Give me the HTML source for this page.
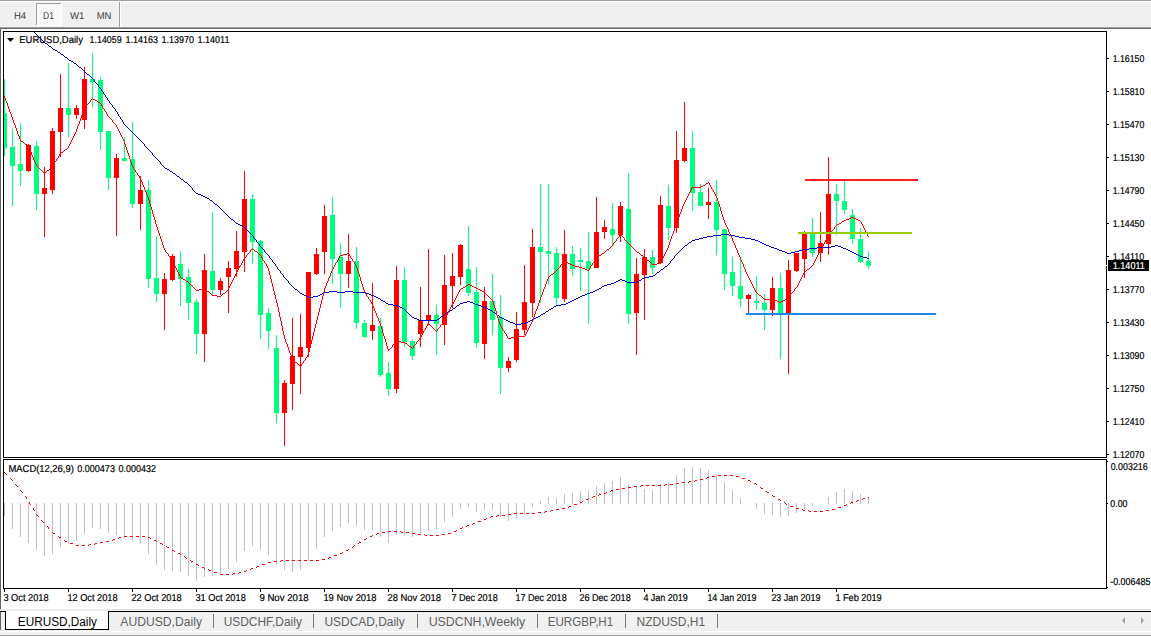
<!DOCTYPE html><html><head><meta charset="utf-8"><style>html,body{margin:0;padding:0;overflow:hidden;background:#f0f0f0}svg{display:block}text{font-family:"Liberation Sans",sans-serif}</style></head><body>
<svg width="1151" height="637" viewBox="0 0 1151 637">
<rect x="0" y="0" width="1151" height="637" fill="#f0f0f0"/>
<rect x="0" y="0" width="1151" height="1" fill="#a0a0a0"/>
<rect x="0" y="1" width="1151" height="1" fill="#ffffff"/>
<defs><pattern id="dith" x="0" y="0" width="2" height="2" patternUnits="userSpaceOnUse"><rect width="2" height="2" fill="#f0f0f0"/><rect x="0" y="0" width="1" height="1" fill="#fff"/><rect x="1" y="1" width="1" height="1" fill="#fff"/></pattern></defs>
<rect x="37" y="4" width="24" height="21" fill="url(#dith)"/>
<rect x="61" y="3" width="1" height="23" fill="#ffffff"/>
<rect x="36" y="25" width="26" height="1" fill="#ffffff"/>
<rect x="36" y="3" width="25" height="1" fill="#a0a0a0"/>
<rect x="36" y="3" width="1" height="22" fill="#a0a0a0"/>
<rect x="119" y="2" width="1" height="25" fill="#a0a0a0"/>
<rect x="120" y="2" width="1" height="25" fill="#ffffff"/>
<text x="13.9" y="19" font-size="10" fill="#3c3c3c" textLength="12.2" lengthAdjust="spacingAndGlyphs" text-rendering="geometricPrecision">H4</text>
<text x="43.0" y="19" font-size="10" fill="#3c3c3c" textLength="10.9" lengthAdjust="spacingAndGlyphs" text-rendering="geometricPrecision">D1</text>
<text x="69.9" y="19" font-size="10" fill="#3c3c3c" textLength="14.4" lengthAdjust="spacingAndGlyphs" text-rendering="geometricPrecision">W1</text>
<text x="96.7" y="19" font-size="10" fill="#3c3c3c" textLength="14.7" lengthAdjust="spacingAndGlyphs" text-rendering="geometricPrecision">MN</text>
<rect x="0" y="27" width="1151" height="1" fill="#a0a0a0"/>
<rect x="0" y="28" width="1151" height="1" fill="#696969"/>
<rect x="1" y="29" width="1150" height="580" fill="#ffffff"/>
<rect x="0" y="29" width="1" height="580" fill="#646464"/>
<rect x="0" y="609" width="1151" height="1" fill="#e3e3e3"/>
<rect x="3" y="31" width="1104" height="1" fill="#000"/>
<rect x="3" y="31" width="1" height="427" fill="#000"/>
<rect x="1106" y="31" width="1" height="427" fill="#000"/>
<rect x="3" y="457" width="1104" height="1" fill="#000"/>
<rect x="3" y="459" width="1104" height="1" fill="#000"/>
<rect x="3" y="459" width="1" height="130" fill="#000"/>
<rect x="1106" y="459" width="1" height="130" fill="#000"/>
<rect x="3" y="588" width="1104" height="1" fill="#000"/>
<defs><clipPath id="cm"><rect x="4" y="32" width="1102" height="425"/></clipPath><clipPath id="cd"><rect x="4" y="460" width="1102" height="128"/></clipPath></defs>
<g clip-path="url(#cm)" shape-rendering="crispEdges">
<rect x="4" y="79" width="1" height="77" fill="#00ff7f"/>
<rect x="2" y="113" width="5" height="35" fill="#00ff7f"/>
<rect x="12" y="129" width="1" height="77" fill="#00ff7f"/>
<rect x="10" y="147" width="5" height="19" fill="#00ff7f"/>
<rect x="20" y="123" width="1" height="63" fill="#00ff7f"/>
<rect x="18" y="164" width="5" height="7" fill="#00ff7f"/>
<rect x="28" y="144" width="1" height="28" fill="#ff0000"/>
<rect x="26" y="145" width="5" height="26" fill="#ff0000"/>
<rect x="36" y="141" width="1" height="69" fill="#00ff7f"/>
<rect x="34" y="146" width="5" height="48" fill="#00ff7f"/>
<rect x="44" y="167" width="1" height="70" fill="#ff0000"/>
<rect x="42" y="188" width="5" height="6" fill="#ff0000"/>
<rect x="52" y="128" width="1" height="66" fill="#ff0000"/>
<rect x="50" y="131" width="5" height="59" fill="#ff0000"/>
<rect x="60" y="74" width="1" height="83" fill="#ff0000"/>
<rect x="58" y="108" width="5" height="24" fill="#ff0000"/>
<rect x="68" y="63" width="1" height="74" fill="#00ff7f"/>
<rect x="66" y="108" width="5" height="7" fill="#00ff7f"/>
<rect x="76" y="105" width="1" height="14" fill="#ff0000"/>
<rect x="74" y="108" width="5" height="7" fill="#ff0000"/>
<rect x="84" y="67" width="1" height="62" fill="#ff0000"/>
<rect x="82" y="79" width="5" height="41" fill="#ff0000"/>
<rect x="92" y="53" width="1" height="54" fill="#00ff7f"/>
<rect x="90" y="79" width="5" height="3" fill="#00ff7f"/>
<rect x="100" y="77" width="1" height="73" fill="#00ff7f"/>
<rect x="98" y="80" width="5" height="52" fill="#00ff7f"/>
<rect x="108" y="131" width="1" height="59" fill="#00ff7f"/>
<rect x="106" y="131" width="5" height="47" fill="#00ff7f"/>
<rect x="116" y="154" width="1" height="82" fill="#ff0000"/>
<rect x="114" y="158" width="5" height="20" fill="#ff0000"/>
<rect x="124" y="137" width="1" height="24" fill="#00ff7f"/>
<rect x="122" y="158" width="5" height="3" fill="#00ff7f"/>
<rect x="132" y="122" width="1" height="86" fill="#00ff7f"/>
<rect x="130" y="159" width="5" height="45" fill="#00ff7f"/>
<rect x="140" y="176" width="1" height="54" fill="#ff0000"/>
<rect x="138" y="190" width="5" height="14" fill="#ff0000"/>
<rect x="148" y="180" width="1" height="108" fill="#00ff7f"/>
<rect x="146" y="190" width="5" height="89" fill="#00ff7f"/>
<rect x="156" y="236" width="1" height="66" fill="#00ff7f"/>
<rect x="154" y="278" width="5" height="16" fill="#00ff7f"/>
<rect x="164" y="273" width="1" height="57" fill="#ff0000"/>
<rect x="162" y="279" width="5" height="15" fill="#ff0000"/>
<rect x="172" y="254" width="1" height="27" fill="#ff0000"/>
<rect x="170" y="256" width="5" height="24" fill="#ff0000"/>
<rect x="180" y="251" width="1" height="55" fill="#00ff7f"/>
<rect x="178" y="264" width="5" height="15" fill="#00ff7f"/>
<rect x="188" y="269" width="1" height="51" fill="#00ff7f"/>
<rect x="186" y="277" width="5" height="26" fill="#00ff7f"/>
<rect x="196" y="299" width="1" height="55" fill="#00ff7f"/>
<rect x="194" y="302" width="5" height="32" fill="#00ff7f"/>
<rect x="204" y="254" width="1" height="108" fill="#ff0000"/>
<rect x="202" y="270" width="5" height="64" fill="#ff0000"/>
<rect x="212" y="212" width="1" height="84" fill="#00ff7f"/>
<rect x="210" y="271" width="5" height="19" fill="#00ff7f"/>
<rect x="220" y="278" width="1" height="17" fill="#ff0000"/>
<rect x="218" y="281" width="5" height="9" fill="#ff0000"/>
<rect x="228" y="261" width="1" height="52" fill="#ff0000"/>
<rect x="226" y="268" width="5" height="9" fill="#ff0000"/>
<rect x="236" y="231" width="1" height="46" fill="#ff0000"/>
<rect x="234" y="251" width="5" height="18" fill="#ff0000"/>
<rect x="244" y="171" width="1" height="101" fill="#ff0000"/>
<rect x="242" y="199" width="5" height="53" fill="#ff0000"/>
<rect x="252" y="194" width="1" height="70" fill="#00ff7f"/>
<rect x="250" y="199" width="5" height="43" fill="#00ff7f"/>
<rect x="260" y="240" width="1" height="99" fill="#00ff7f"/>
<rect x="258" y="241" width="5" height="74" fill="#00ff7f"/>
<rect x="268" y="308" width="1" height="41" fill="#00ff7f"/>
<rect x="266" y="313" width="5" height="18" fill="#00ff7f"/>
<rect x="276" y="335" width="1" height="88" fill="#00ff7f"/>
<rect x="274" y="348" width="5" height="65" fill="#00ff7f"/>
<rect x="284" y="380" width="1" height="66" fill="#ff0000"/>
<rect x="282" y="383" width="5" height="30" fill="#ff0000"/>
<rect x="292" y="318" width="1" height="92" fill="#ff0000"/>
<rect x="290" y="356" width="5" height="28" fill="#ff0000"/>
<rect x="300" y="314" width="1" height="80" fill="#ff0000"/>
<rect x="298" y="347" width="5" height="10" fill="#ff0000"/>
<rect x="308" y="272" width="1" height="85" fill="#ff0000"/>
<rect x="306" y="272" width="5" height="76" fill="#ff0000"/>
<rect x="316" y="248" width="1" height="27" fill="#ff0000"/>
<rect x="314" y="254" width="5" height="20" fill="#ff0000"/>
<rect x="324" y="205" width="1" height="69" fill="#ff0000"/>
<rect x="322" y="216" width="5" height="36" fill="#ff0000"/>
<rect x="332" y="197" width="1" height="87" fill="#00ff7f"/>
<rect x="330" y="215" width="5" height="44" fill="#00ff7f"/>
<rect x="340" y="243" width="1" height="65" fill="#00ff7f"/>
<rect x="338" y="257" width="5" height="17" fill="#00ff7f"/>
<rect x="348" y="234" width="1" height="54" fill="#ff0000"/>
<rect x="346" y="261" width="5" height="13" fill="#ff0000"/>
<rect x="356" y="247" width="1" height="82" fill="#00ff7f"/>
<rect x="354" y="261" width="5" height="62" fill="#00ff7f"/>
<rect x="364" y="320" width="1" height="18" fill="#00ff7f"/>
<rect x="362" y="323" width="5" height="14" fill="#00ff7f"/>
<rect x="372" y="283" width="1" height="57" fill="#ff0000"/>
<rect x="370" y="325" width="5" height="6" fill="#ff0000"/>
<rect x="380" y="318" width="1" height="59" fill="#00ff7f"/>
<rect x="378" y="326" width="5" height="49" fill="#00ff7f"/>
<rect x="388" y="362" width="1" height="34" fill="#00ff7f"/>
<rect x="386" y="373" width="5" height="16" fill="#00ff7f"/>
<rect x="396" y="266" width="1" height="127" fill="#ff0000"/>
<rect x="394" y="280" width="5" height="109" fill="#ff0000"/>
<rect x="404" y="267" width="1" height="80" fill="#00ff7f"/>
<rect x="402" y="280" width="5" height="62" fill="#00ff7f"/>
<rect x="412" y="339" width="1" height="21" fill="#00ff7f"/>
<rect x="410" y="341" width="5" height="15" fill="#00ff7f"/>
<rect x="420" y="287" width="1" height="60" fill="#ff0000"/>
<rect x="418" y="320" width="5" height="14" fill="#ff0000"/>
<rect x="428" y="249" width="1" height="76" fill="#ff0000"/>
<rect x="426" y="315" width="5" height="5" fill="#ff0000"/>
<rect x="436" y="305" width="1" height="50" fill="#00ff7f"/>
<rect x="434" y="315" width="5" height="9" fill="#00ff7f"/>
<rect x="444" y="255" width="1" height="90" fill="#ff0000"/>
<rect x="442" y="285" width="5" height="40" fill="#ff0000"/>
<rect x="452" y="253" width="1" height="55" fill="#ff0000"/>
<rect x="450" y="276" width="5" height="10" fill="#ff0000"/>
<rect x="460" y="244" width="1" height="41" fill="#ff0000"/>
<rect x="458" y="245" width="5" height="32" fill="#ff0000"/>
<rect x="468" y="226" width="1" height="70" fill="#00ff7f"/>
<rect x="466" y="269" width="5" height="24" fill="#00ff7f"/>
<rect x="476" y="267" width="1" height="81" fill="#00ff7f"/>
<rect x="474" y="292" width="5" height="51" fill="#00ff7f"/>
<rect x="484" y="287" width="1" height="72" fill="#ff0000"/>
<rect x="482" y="301" width="5" height="43" fill="#ff0000"/>
<rect x="492" y="274" width="1" height="61" fill="#00ff7f"/>
<rect x="490" y="301" width="5" height="19" fill="#00ff7f"/>
<rect x="500" y="295" width="1" height="99" fill="#00ff7f"/>
<rect x="498" y="317" width="5" height="51" fill="#00ff7f"/>
<rect x="508" y="357" width="1" height="15" fill="#ff0000"/>
<rect x="506" y="361" width="5" height="7" fill="#ff0000"/>
<rect x="516" y="312" width="1" height="50" fill="#ff0000"/>
<rect x="514" y="329" width="5" height="31" fill="#ff0000"/>
<rect x="524" y="265" width="1" height="70" fill="#ff0000"/>
<rect x="522" y="302" width="5" height="28" fill="#ff0000"/>
<rect x="532" y="229" width="1" height="88" fill="#ff0000"/>
<rect x="530" y="247" width="5" height="56" fill="#ff0000"/>
<rect x="540" y="184" width="1" height="119" fill="#00ff7f"/>
<rect x="538" y="247" width="5" height="5" fill="#00ff7f"/>
<rect x="548" y="184" width="1" height="101" fill="#00ff7f"/>
<rect x="546" y="251" width="5" height="3" fill="#00ff7f"/>
<rect x="556" y="247" width="1" height="58" fill="#00ff7f"/>
<rect x="554" y="253" width="5" height="45" fill="#00ff7f"/>
<rect x="564" y="230" width="1" height="72" fill="#ff0000"/>
<rect x="562" y="254" width="5" height="45" fill="#ff0000"/>
<rect x="572" y="246" width="1" height="30" fill="#00ff7f"/>
<rect x="570" y="254" width="5" height="15" fill="#00ff7f"/>
<rect x="580" y="248" width="1" height="43" fill="#00ff7f"/>
<rect x="578" y="260" width="5" height="2" fill="#00ff7f"/>
<rect x="588" y="232" width="1" height="92" fill="#00ff7f"/>
<rect x="586" y="261" width="5" height="8" fill="#00ff7f"/>
<rect x="596" y="197" width="1" height="71" fill="#ff0000"/>
<rect x="594" y="232" width="5" height="36" fill="#ff0000"/>
<rect x="604" y="220" width="1" height="19" fill="#ff0000"/>
<rect x="602" y="227" width="5" height="5" fill="#ff0000"/>
<rect x="612" y="203" width="1" height="43" fill="#00ff7f"/>
<rect x="610" y="229" width="5" height="6" fill="#00ff7f"/>
<rect x="620" y="202" width="1" height="40" fill="#ff0000"/>
<rect x="618" y="206" width="5" height="29" fill="#ff0000"/>
<rect x="628" y="173" width="1" height="151" fill="#00ff7f"/>
<rect x="626" y="209" width="5" height="105" fill="#00ff7f"/>
<rect x="636" y="258" width="1" height="97" fill="#ff0000"/>
<rect x="634" y="274" width="5" height="39" fill="#ff0000"/>
<rect x="644" y="249" width="1" height="71" fill="#ff0000"/>
<rect x="642" y="257" width="5" height="18" fill="#ff0000"/>
<rect x="652" y="250" width="1" height="24" fill="#00ff7f"/>
<rect x="650" y="257" width="5" height="11" fill="#00ff7f"/>
<rect x="660" y="196" width="1" height="67" fill="#ff0000"/>
<rect x="658" y="205" width="5" height="58" fill="#ff0000"/>
<rect x="668" y="185" width="1" height="55" fill="#00ff7f"/>
<rect x="666" y="206" width="5" height="22" fill="#00ff7f"/>
<rect x="676" y="131" width="1" height="102" fill="#ff0000"/>
<rect x="674" y="160" width="5" height="68" fill="#ff0000"/>
<rect x="684" y="102" width="1" height="60" fill="#ff0000"/>
<rect x="682" y="148" width="5" height="13" fill="#ff0000"/>
<rect x="692" y="131" width="1" height="80" fill="#00ff7f"/>
<rect x="690" y="148" width="5" height="45" fill="#00ff7f"/>
<rect x="700" y="184" width="1" height="22" fill="#00ff7f"/>
<rect x="698" y="192" width="5" height="14" fill="#00ff7f"/>
<rect x="708" y="188" width="1" height="31" fill="#ff0000"/>
<rect x="706" y="202" width="5" height="3" fill="#ff0000"/>
<rect x="716" y="180" width="1" height="75" fill="#00ff7f"/>
<rect x="714" y="202" width="5" height="28" fill="#00ff7f"/>
<rect x="724" y="229" width="1" height="61" fill="#00ff7f"/>
<rect x="722" y="229" width="5" height="45" fill="#00ff7f"/>
<rect x="732" y="257" width="1" height="39" fill="#00ff7f"/>
<rect x="730" y="272" width="5" height="14" fill="#00ff7f"/>
<rect x="740" y="260" width="1" height="47" fill="#00ff7f"/>
<rect x="738" y="286" width="5" height="13" fill="#00ff7f"/>
<rect x="748" y="294" width="1" height="20" fill="#ff0000"/>
<rect x="746" y="295" width="5" height="4" fill="#ff0000"/>
<rect x="756" y="276" width="1" height="34" fill="#00ff7f"/>
<rect x="754" y="301" width="5" height="2" fill="#00ff7f"/>
<rect x="764" y="294" width="1" height="36" fill="#00ff7f"/>
<rect x="762" y="303" width="5" height="7" fill="#00ff7f"/>
<rect x="772" y="277" width="1" height="39" fill="#ff0000"/>
<rect x="770" y="288" width="5" height="22" fill="#ff0000"/>
<rect x="780" y="273" width="1" height="86" fill="#00ff7f"/>
<rect x="778" y="288" width="5" height="25" fill="#00ff7f"/>
<rect x="788" y="260" width="1" height="114" fill="#ff0000"/>
<rect x="786" y="270" width="5" height="43" fill="#ff0000"/>
<rect x="796" y="253" width="1" height="19" fill="#ff0000"/>
<rect x="794" y="253" width="5" height="18" fill="#ff0000"/>
<rect x="804" y="231" width="1" height="47" fill="#ff0000"/>
<rect x="802" y="234" width="5" height="25" fill="#ff0000"/>
<rect x="812" y="218" width="1" height="39" fill="#00ff7f"/>
<rect x="810" y="234" width="5" height="19" fill="#00ff7f"/>
<rect x="820" y="212" width="1" height="50" fill="#ff0000"/>
<rect x="818" y="243" width="5" height="10" fill="#ff0000"/>
<rect x="828" y="157" width="1" height="98" fill="#ff0000"/>
<rect x="826" y="194" width="5" height="50" fill="#ff0000"/>
<rect x="836" y="184" width="1" height="51" fill="#00ff7f"/>
<rect x="834" y="194" width="5" height="7" fill="#00ff7f"/>
<rect x="844" y="180" width="1" height="34" fill="#00ff7f"/>
<rect x="842" y="201" width="5" height="9" fill="#00ff7f"/>
<rect x="852" y="209" width="1" height="35" fill="#00ff7f"/>
<rect x="850" y="215" width="5" height="24" fill="#00ff7f"/>
<rect x="860" y="228" width="1" height="35" fill="#00ff7f"/>
<rect x="858" y="239" width="5" height="23" fill="#00ff7f"/>
<rect x="868" y="251" width="1" height="18" fill="#00ff7f"/>
<rect x="866" y="261" width="5" height="5" fill="#00ff7f"/>
<path fill="#0000cd" d="M34,32h1v1h-1zM35,33h1v1h-1zM36,34h1v1h-1zM37,35h1v1h-1zM38,36h1v1h-1zM39,37h1v1h-1zM40,38h1v1h-1zM41,39h1v1h-1zM42,40h1v1h-1zM43,41h1v1h-1zM44,42h1v1h-1zM45,43h2v1h-2zM47,44h1v1h-1zM48,45h1v1h-1zM49,46h2v1h-2zM51,47h1v1h-1zM52,48h1v1h-1zM53,49h2v1h-2zM55,50h2v1h-2zM57,51h1v1h-1zM58,52h2v1h-2zM60,53h1v1h-1zM61,54h2v1h-2zM63,55h1v1h-1zM64,56h1v1h-1zM65,57h2v1h-2zM67,58h1v1h-1zM68,59h1v1h-1zM69,60h2v1h-2zM71,61h2v1h-2zM73,62h1v1h-1zM74,63h2v1h-2zM76,64h1v1h-1zM77,65h1v1h-1zM78,66h1v1h-1zM79,67h2v1h-2zM81,68h1v1h-1zM82,69h1v1h-1zM83,70h1v1h-1zM84,71h1v1h-1zM85,72h1v1h-1zM86,73h1v1h-1zM87,74h2v1h-2zM89,75h1v1h-1zM90,76h1v1h-1zM91,77h1v1h-1zM92,78h1v1h-1zM93,79h1v1h-1zM94,80h1v1h-1zM94,81h1v1h-1zM95,82h1v1h-1zM96,83h1v1h-1zM97,84h1v1h-1zM98,85h1v1h-1zM98,86h1v1h-1zM99,87h1v1h-1zM100,88h1v1h-1zM101,89h1v1h-1zM101,90h1v1h-1zM102,91h1v1h-1zM103,92h1v1h-1zM103,93h1v1h-1zM104,94h1v1h-1zM105,95h1v1h-1zM105,96h1v1h-1zM106,97h1v1h-1zM107,98h1v1h-1zM107,99h1v1h-1zM108,100h1v1h-1zM109,101h1v1h-1zM109,102h1v1h-1zM110,103h1v1h-1zM111,104h1v1h-1zM112,105h1v1h-1zM112,106h1v1h-1zM113,107h1v1h-1zM114,108h1v1h-1zM115,109h1v1h-1zM115,110h1v1h-1zM116,111h1v1h-1zM117,112h1v1h-1zM117,113h1v1h-1zM118,114h1v1h-1zM118,115h1v1h-1zM119,116h1v1h-1zM120,117h1v1h-1zM120,118h1v1h-1zM121,119h1v1h-1zM122,120h1v1h-1zM122,121h1v1h-1zM123,122h1v1h-1zM123,123h1v1h-1zM124,124h1v1h-1zM125,125h1v1h-1zM126,126h1v1h-1zM127,127h1v1h-1zM128,128h1v1h-1zM129,129h1v1h-1zM130,130h1v1h-1zM131,131h1v1h-1zM132,132h1v1h-1zM133,133h1v1h-1zM134,134h1v1h-1zM135,135h1v1h-1zM136,136h1v1h-1zM137,137h1v1h-1zM138,138h1v1h-1zM139,139h1v1h-1zM140,140h1v1h-1zM141,141h1v1h-1zM142,142h1v1h-1zM143,143h1v1h-1zM144,144h1v1h-1zM144,145h1v1h-1zM145,146h1v1h-1zM146,147h1v1h-1zM147,148h1v1h-1zM148,149h1v1h-1zM149,150h1v1h-1zM150,151h1v1h-1zM151,152h1v1h-1zM152,153h1v1h-1zM152,154h1v1h-1zM153,155h1v1h-1zM154,156h1v1h-1zM155,157h1v1h-1zM156,158h1v1h-1zM157,159h1v1h-1zM158,160h1v1h-1zM159,161h1v1h-1zM160,162h1v1h-1zM160,163h1v1h-1zM161,164h1v1h-1zM162,165h1v1h-1zM163,166h1v1h-1zM164,167h1v1h-1zM165,168h2v1h-2zM167,169h2v1h-2zM169,170h1v1h-1zM170,171h2v1h-2zM172,172h1v1h-1zM173,173h2v1h-2zM175,174h1v1h-1zM176,175h1v1h-1zM177,176h2v1h-2zM179,177h1v1h-1zM180,178h1v1h-1zM181,179h2v1h-2zM183,180h1v1h-1zM184,181h1v1h-1zM185,182h2v1h-2zM187,183h1v1h-1zM188,184h1v1h-1zM189,185h1v1h-1zM190,186h1v1h-1zM191,187h1v1h-1zM192,188h1v1h-1zM192,189h1v1h-1zM193,190h1v1h-1zM194,191h1v1h-1zM195,192h1v1h-1zM196,193h2v1h-2zM198,194h3v1h-3zM201,195h2v1h-2zM203,196h2v1h-2zM205,197h2v1h-2zM207,198h2v1h-2zM209,199h1v1h-1zM210,200h2v1h-2zM212,201h1v1h-1zM213,202h1v1h-1zM214,203h1v1h-1zM215,204h2v1h-2zM217,205h1v1h-1zM218,206h1v1h-1zM219,207h1v1h-1zM220,208h1v1h-1zM221,209h1v1h-1zM222,210h1v1h-1zM223,211h1v1h-1zM224,212h1v1h-1zM225,213h1v1h-1zM226,214h1v1h-1zM227,215h1v1h-1zM228,216h1v1h-1zM229,217h1v1h-1zM230,218h1v1h-1zM231,219h2v1h-2zM233,220h1v1h-1zM234,221h1v1h-1zM235,222h1v1h-1zM236,223h2v1h-2zM238,224h2v1h-2zM240,225h2v1h-2zM242,226h2v1h-2zM244,227h1v1h-1zM245,228h1v1h-1zM246,229h1v1h-1zM247,230h1v1h-1zM248,231h1v1h-1zM249,232h1v1h-1zM250,233h1v1h-1zM251,234h1v1h-1zM721,234h8v1h-8zM252,235h1v1h-1zM713,235h8v1h-8zM729,235h6v1h-6zM253,236h1v1h-1zM707,236h6v1h-6zM735,236h4v1h-4zM253,237h1v1h-1zM703,237h4v1h-4zM739,237h6v1h-6zM254,238h1v1h-1zM699,238h4v1h-4zM745,238h6v1h-6zM255,239h1v1h-1zM695,239h4v1h-4zM751,239h4v1h-4zM256,240h1v1h-1zM692,240h3v1h-3zM755,240h3v1h-3zM256,241h1v1h-1zM691,241h1v1h-1zM758,241h2v1h-2zM257,242h1v1h-1zM689,242h2v1h-2zM760,242h2v1h-2zM258,243h1v1h-1zM688,243h1v1h-1zM762,243h2v1h-2zM259,244h1v1h-1zM687,244h1v1h-1zM764,244h2v1h-2zM259,245h1v1h-1zM685,245h2v1h-2zM766,245h3v1h-3zM835,245h3v1h-3zM260,246h1v1h-1zM684,246h1v1h-1zM769,246h2v1h-2zM831,246h4v1h-4zM838,246h3v1h-3zM261,247h1v1h-1zM683,247h1v1h-1zM771,247h3v1h-3zM817,247h14v1h-14zM841,247h2v1h-2zM262,248h1v1h-1zM682,248h1v1h-1zM774,248h3v1h-3zM809,248h8v1h-8zM843,248h3v1h-3zM263,249h1v1h-1zM681,249h1v1h-1zM777,249h2v1h-2zM803,249h6v1h-6zM846,249h2v1h-2zM264,250h1v1h-1zM680,250h1v1h-1zM779,250h3v1h-3zM799,250h4v1h-4zM848,250h2v1h-2zM264,251h1v1h-1zM679,251h1v1h-1zM782,251h3v1h-3zM795,251h4v1h-4zM850,251h2v1h-2zM265,252h1v1h-1zM678,252h1v1h-1zM785,252h2v1h-2zM791,252h4v1h-4zM852,252h2v1h-2zM266,253h1v1h-1zM677,253h1v1h-1zM787,253h4v1h-4zM854,253h2v1h-2zM267,254h1v1h-1zM676,254h1v1h-1zM856,254h2v1h-2zM268,255h1v1h-1zM675,255h1v1h-1zM858,255h2v1h-2zM269,256h1v1h-1zM674,256h1v1h-1zM860,256h3v1h-3zM269,257h1v1h-1zM674,257h1v1h-1zM863,257h4v1h-4zM270,258h1v1h-1zM673,258h1v1h-1zM867,258h2v1h-2zM271,259h1v1h-1zM672,259h1v1h-1zM272,260h1v1h-1zM671,260h1v1h-1zM272,261h1v1h-1zM670,261h1v1h-1zM273,262h1v1h-1zM670,262h1v1h-1zM274,263h1v1h-1zM669,263h1v1h-1zM275,264h1v1h-1zM668,264h1v1h-1zM275,265h1v1h-1zM667,265h1v1h-1zM276,266h1v1h-1zM665,266h2v1h-2zM277,267h1v1h-1zM664,267h1v1h-1zM277,268h1v1h-1zM663,268h1v1h-1zM278,269h1v1h-1zM661,269h2v1h-2zM279,270h1v1h-1zM660,270h1v1h-1zM280,271h1v1h-1zM659,271h1v1h-1zM280,272h1v1h-1zM657,272h2v1h-2zM281,273h1v1h-1zM656,273h1v1h-1zM282,274h1v1h-1zM655,274h1v1h-1zM283,275h1v1h-1zM653,275h2v1h-2zM283,276h1v1h-1zM649,276h4v1h-4zM284,277h1v1h-1zM644,277h5v1h-5zM285,278h1v1h-1zM642,278h2v1h-2zM286,279h1v1h-1zM620,279h2v1h-2zM641,279h1v1h-1zM287,280h1v1h-1zM618,280h2v1h-2zM622,280h3v1h-3zM639,280h2v1h-2zM288,281h1v1h-1zM616,281h2v1h-2zM625,281h2v1h-2zM637,281h2v1h-2zM288,282h1v1h-1zM614,282h2v1h-2zM627,282h10v1h-10zM289,283h1v1h-1zM611,283h3v1h-3zM290,284h1v1h-1zM607,284h4v1h-4zM291,285h1v1h-1zM604,285h3v1h-3zM292,286h1v1h-1zM602,286h2v1h-2zM293,287h1v1h-1zM601,287h1v1h-1zM294,288h1v1h-1zM599,288h2v1h-2zM295,289h2v1h-2zM597,289h2v1h-2zM297,290h1v1h-1zM595,290h2v1h-2zM298,291h1v1h-1zM329,291h8v1h-8zM345,291h8v1h-8zM593,291h2v1h-2zM299,292h1v1h-1zM324,292h5v1h-5zM337,292h8v1h-8zM353,292h13v1h-13zM590,292h3v1h-3zM300,293h2v1h-2zM322,293h2v1h-2zM366,293h3v1h-3zM587,293h3v1h-3zM302,294h2v1h-2zM320,294h2v1h-2zM369,294h2v1h-2zM585,294h2v1h-2zM304,295h2v1h-2zM318,295h2v1h-2zM371,295h3v1h-3zM582,295h3v1h-3zM306,296h2v1h-2zM313,296h5v1h-5zM374,296h2v1h-2zM580,296h2v1h-2zM308,297h5v1h-5zM376,297h2v1h-2zM578,297h2v1h-2zM378,298h2v1h-2zM576,298h2v1h-2zM380,299h1v1h-1zM574,299h2v1h-2zM381,300h2v1h-2zM572,300h2v1h-2zM383,301h2v1h-2zM467,301h3v1h-3zM570,301h2v1h-2zM385,302h1v1h-1zM463,302h4v1h-4zM470,302h3v1h-3zM568,302h2v1h-2zM386,303h2v1h-2zM460,303h3v1h-3zM473,303h2v1h-2zM566,303h2v1h-2zM388,304h5v1h-5zM459,304h1v1h-1zM475,304h3v1h-3zM561,304h5v1h-5zM393,305h5v1h-5zM457,305h2v1h-2zM478,305h3v1h-3zM556,305h5v1h-5zM398,306h2v1h-2zM456,306h1v1h-1zM481,306h2v1h-2zM554,306h2v1h-2zM400,307h2v1h-2zM455,307h1v1h-1zM483,307h3v1h-3zM553,307h1v1h-1zM402,308h2v1h-2zM453,308h2v1h-2zM486,308h2v1h-2zM551,308h2v1h-2zM404,309h1v1h-1zM452,309h1v1h-1zM488,309h2v1h-2zM549,309h2v1h-2zM405,310h1v1h-1zM450,310h2v1h-2zM490,310h2v1h-2zM548,310h1v1h-1zM406,311h1v1h-1zM449,311h1v1h-1zM492,311h1v1h-1zM546,311h2v1h-2zM407,312h1v1h-1zM447,312h2v1h-2zM493,312h2v1h-2zM545,312h1v1h-1zM408,313h1v1h-1zM445,313h2v1h-2zM495,313h1v1h-1zM543,313h2v1h-2zM409,314h1v1h-1zM444,314h1v1h-1zM496,314h1v1h-1zM541,314h2v1h-2zM410,315h1v1h-1zM443,315h1v1h-1zM497,315h2v1h-2zM540,315h1v1h-1zM411,316h1v1h-1zM441,316h2v1h-2zM499,316h1v1h-1zM538,316h2v1h-2zM412,317h2v1h-2zM440,317h1v1h-1zM500,317h2v1h-2zM536,317h2v1h-2zM414,318h3v1h-3zM439,318h1v1h-1zM502,318h2v1h-2zM534,318h2v1h-2zM417,319h2v1h-2zM437,319h2v1h-2zM504,319h2v1h-2zM532,319h2v1h-2zM419,320h18v1h-18zM506,320h2v1h-2zM530,320h2v1h-2zM508,321h2v1h-2zM528,321h2v1h-2zM510,322h3v1h-3zM526,322h2v1h-2zM513,323h2v1h-2zM521,323h5v1h-5zM515,324h6v1h-6z"/>
<path fill="#ff0000" d="M4,96h1v1h-1zM4,97h1v1h-1zM5,98h1v1h-1zM92,98h1v1h-1zM5,99h1v1h-1zM91,99h1v1h-1zM93,99h2v1h-2zM5,100h1v1h-1zM90,100h1v1h-1zM95,100h2v1h-2zM6,101h1v1h-1zM90,101h1v1h-1zM97,101h1v1h-1zM6,102h1v1h-1zM89,102h1v1h-1zM98,102h2v1h-2zM7,103h1v1h-1zM88,103h1v1h-1zM100,103h1v1h-1zM7,104h1v1h-1zM87,104h1v1h-1zM101,104h1v1h-1zM7,105h1v1h-1zM86,105h1v1h-1zM101,105h1v1h-1zM8,106h1v1h-1zM86,106h1v1h-1zM102,106h1v1h-1zM8,107h1v1h-1zM85,107h1v1h-1zM102,107h1v1h-1zM8,108h1v1h-1zM84,108h1v1h-1zM103,108h1v1h-1zM9,109h1v1h-1zM84,109h1v1h-1zM104,109h1v1h-1zM9,110h1v1h-1zM83,110h1v1h-1zM104,110h1v1h-1zM9,111h1v1h-1zM83,111h1v1h-1zM105,111h1v1h-1zM10,112h1v1h-1zM83,112h1v1h-1zM106,112h1v1h-1zM10,113h1v1h-1zM82,113h1v1h-1zM106,113h1v1h-1zM11,114h1v1h-1zM82,114h1v1h-1zM107,114h1v1h-1zM11,115h1v1h-1zM81,115h1v1h-1zM107,115h1v1h-1zM11,116h1v1h-1zM81,116h1v1h-1zM108,116h1v1h-1zM12,117h1v1h-1zM81,117h1v1h-1zM109,117h1v1h-1zM12,118h1v1h-1zM80,118h1v1h-1zM110,118h1v1h-1zM12,119h1v1h-1zM80,119h1v1h-1zM111,119h1v1h-1zM13,120h1v1h-1zM80,120h1v1h-1zM112,120h1v1h-1zM13,121h1v1h-1zM79,121h1v1h-1zM112,121h1v1h-1zM13,122h1v1h-1zM79,122h1v1h-1zM113,122h1v1h-1zM14,123h1v1h-1zM79,123h1v1h-1zM114,123h1v1h-1zM14,124h1v1h-1zM78,124h1v1h-1zM115,124h1v1h-1zM15,125h1v1h-1zM78,125h1v1h-1zM116,125h1v1h-1zM15,126h1v1h-1zM77,126h1v1h-1zM116,126h1v1h-1zM15,127h1v1h-1zM77,127h1v1h-1zM117,127h1v1h-1zM16,128h1v1h-1zM77,128h1v1h-1zM117,128h1v1h-1zM16,129h1v1h-1zM76,129h1v1h-1zM118,129h1v1h-1zM16,130h1v1h-1zM76,130h1v1h-1zM118,130h1v1h-1zM17,131h1v1h-1zM76,131h1v1h-1zM119,131h1v1h-1zM17,132h1v1h-1zM75,132h1v1h-1zM119,132h1v1h-1zM17,133h1v1h-1zM75,133h1v1h-1zM120,133h1v1h-1zM18,134h1v1h-1zM74,134h1v1h-1zM120,134h1v1h-1zM18,135h1v1h-1zM74,135h1v1h-1zM121,135h1v1h-1zM19,136h1v1h-1zM73,136h1v1h-1zM121,136h1v1h-1zM19,137h1v1h-1zM73,137h1v1h-1zM122,137h1v1h-1zM19,138h1v1h-1zM72,138h1v1h-1zM122,138h1v1h-1zM20,139h1v1h-1zM72,139h1v1h-1zM123,139h1v1h-1zM20,140h1v1h-1zM71,140h1v1h-1zM123,140h1v1h-1zM21,141h2v1h-2zM71,141h1v1h-1zM124,141h1v1h-1zM23,142h1v1h-1zM70,142h1v1h-1zM124,142h1v1h-1zM24,143h1v1h-1zM70,143h1v1h-1zM124,143h1v1h-1zM25,144h2v1h-2zM69,144h1v1h-1zM125,144h1v1h-1zM27,145h1v1h-1zM69,145h1v1h-1zM125,145h1v1h-1zM28,146h1v1h-1zM68,146h1v1h-1zM125,146h1v1h-1zM28,147h1v1h-1zM68,147h1v1h-1zM126,147h1v1h-1zM29,148h1v1h-1zM67,148h1v1h-1zM126,148h1v1h-1zM29,149h1v1h-1zM65,149h2v1h-2zM126,149h1v1h-1zM30,150h1v1h-1zM64,150h1v1h-1zM127,150h1v1h-1zM30,151h1v1h-1zM63,151h1v1h-1zM127,151h1v1h-1zM31,152h1v1h-1zM61,152h2v1h-2zM127,152h1v1h-1zM31,153h1v1h-1zM60,153h1v1h-1zM128,153h1v1h-1zM31,154h1v1h-1zM59,154h1v1h-1zM128,154h1v1h-1zM32,155h1v1h-1zM59,155h1v1h-1zM128,155h1v1h-1zM32,156h1v1h-1zM58,156h1v1h-1zM129,156h1v1h-1zM33,157h1v1h-1zM58,157h1v1h-1zM129,157h1v1h-1zM33,158h1v1h-1zM57,158h1v1h-1zM129,158h1v1h-1zM33,159h1v1h-1zM56,159h1v1h-1zM130,159h1v1h-1zM34,160h1v1h-1zM56,160h1v1h-1zM130,160h1v1h-1zM34,161h1v1h-1zM55,161h1v1h-1zM130,161h1v1h-1zM35,162h1v1h-1zM54,162h1v1h-1zM131,162h1v1h-1zM35,163h1v1h-1zM54,163h1v1h-1zM131,163h1v1h-1zM36,164h1v1h-1zM53,164h1v1h-1zM131,164h1v1h-1zM36,165h1v1h-1zM53,165h1v1h-1zM132,165h1v1h-1zM37,166h1v1h-1zM52,166h1v1h-1zM132,166h1v1h-1zM38,167h1v1h-1zM51,167h1v1h-1zM133,167h1v1h-1zM39,168h1v1h-1zM50,168h1v1h-1zM133,168h1v1h-1zM40,169h1v1h-1zM49,169h1v1h-1zM134,169h1v1h-1zM41,170h1v1h-1zM47,170h2v1h-2zM135,170h1v1h-1zM42,171h1v1h-1zM46,171h1v1h-1zM135,171h1v1h-1zM43,172h1v1h-1zM45,172h1v1h-1zM136,172h1v1h-1zM44,173h1v1h-1zM137,173h1v1h-1zM137,174h1v1h-1zM138,175h1v1h-1zM139,176h1v1h-1zM139,177h1v1h-1zM140,178h1v1h-1zM140,179h1v1h-1zM141,180h1v1h-1zM141,181h1v1h-1zM142,182h1v1h-1zM708,182h1v1h-1zM142,183h1v1h-1zM706,183h2v1h-2zM709,183h1v1h-1zM142,184h1v1h-1zM705,184h1v1h-1zM709,184h1v1h-1zM143,185h1v1h-1zM703,185h2v1h-2zM710,185h1v1h-1zM143,186h1v1h-1zM701,186h2v1h-2zM710,186h1v1h-1zM144,187h1v1h-1zM692,187h9v1h-9zM711,187h1v1h-1zM144,188h1v1h-1zM691,188h1v1h-1zM711,188h1v1h-1zM144,189h1v1h-1zM691,189h1v1h-1zM712,189h1v1h-1zM145,190h1v1h-1zM690,190h1v1h-1zM713,190h1v1h-1zM145,191h1v1h-1zM690,191h1v1h-1zM713,191h1v1h-1zM146,192h1v1h-1zM689,192h1v1h-1zM714,192h1v1h-1zM146,193h1v1h-1zM689,193h1v1h-1zM714,193h1v1h-1zM146,194h1v1h-1zM688,194h1v1h-1zM715,194h1v1h-1zM147,195h1v1h-1zM688,195h1v1h-1zM715,195h1v1h-1zM147,196h1v1h-1zM687,196h1v1h-1zM716,196h1v1h-1zM148,197h1v1h-1zM687,197h1v1h-1zM716,197h1v1h-1zM148,198h1v1h-1zM686,198h1v1h-1zM717,198h1v1h-1zM148,199h1v1h-1zM686,199h1v1h-1zM717,199h1v1h-1zM149,200h1v1h-1zM685,200h1v1h-1zM717,200h1v1h-1zM149,201h1v1h-1zM685,201h1v1h-1zM718,201h1v1h-1zM149,202h1v1h-1zM684,202h1v1h-1zM718,202h1v1h-1zM149,203h1v1h-1zM684,203h1v1h-1zM718,203h1v1h-1zM150,204h1v1h-1zM683,204h1v1h-1zM719,204h1v1h-1zM150,205h1v1h-1zM683,205h1v1h-1zM719,205h1v1h-1zM150,206h1v1h-1zM682,206h1v1h-1zM719,206h1v1h-1zM151,207h1v1h-1zM682,207h1v1h-1zM720,207h1v1h-1zM151,208h1v1h-1zM682,208h1v1h-1zM720,208h1v1h-1zM151,209h1v1h-1zM681,209h1v1h-1zM720,209h1v1h-1zM152,210h1v1h-1zM681,210h1v1h-1zM720,210h1v1h-1zM152,211h1v1h-1zM681,211h1v1h-1zM721,211h1v1h-1zM152,212h1v1h-1zM680,212h1v1h-1zM721,212h1v1h-1zM152,213h1v1h-1zM680,213h1v1h-1zM721,213h1v1h-1zM153,214h1v1h-1zM679,214h1v1h-1zM722,214h1v1h-1zM153,215h1v1h-1zM679,215h1v1h-1zM722,215h1v1h-1zM153,216h1v1h-1zM679,216h1v1h-1zM722,216h1v1h-1zM154,217h1v1h-1zM678,217h1v1h-1zM723,217h1v1h-1zM851,217h3v1h-3zM154,218h1v1h-1zM678,218h1v1h-1zM723,218h1v1h-1zM849,218h2v1h-2zM854,218h2v1h-2zM154,219h1v1h-1zM678,219h1v1h-1zM723,219h1v1h-1zM846,219h3v1h-3zM856,219h2v1h-2zM155,220h1v1h-1zM677,220h1v1h-1zM724,220h1v1h-1zM844,220h2v1h-2zM858,220h2v1h-2zM155,221h1v1h-1zM677,221h1v1h-1zM724,221h1v1h-1zM842,221h2v1h-2zM860,221h1v1h-1zM155,222h1v1h-1zM676,222h1v1h-1zM724,222h1v1h-1zM841,222h1v1h-1zM861,222h1v1h-1zM155,223h1v1h-1zM676,223h1v1h-1zM725,223h1v1h-1zM839,223h2v1h-2zM861,223h1v1h-1zM156,224h1v1h-1zM676,224h1v1h-1zM725,224h1v1h-1zM837,224h2v1h-2zM862,224h1v1h-1zM156,225h1v1h-1zM675,225h1v1h-1zM726,225h1v1h-1zM836,225h1v1h-1zM862,225h1v1h-1zM156,226h1v1h-1zM675,226h1v1h-1zM726,226h1v1h-1zM835,226h1v1h-1zM863,226h1v1h-1zM157,227h1v1h-1zM675,227h1v1h-1zM727,227h1v1h-1zM834,227h1v1h-1zM863,227h1v1h-1zM157,228h1v1h-1zM674,228h1v1h-1zM727,228h1v1h-1zM834,228h1v1h-1zM864,228h1v1h-1zM157,229h1v1h-1zM674,229h1v1h-1zM728,229h1v1h-1zM833,229h1v1h-1zM864,229h1v1h-1zM158,230h1v1h-1zM674,230h1v1h-1zM728,230h1v1h-1zM832,230h1v1h-1zM865,230h1v1h-1zM158,231h1v1h-1zM673,231h1v1h-1zM728,231h1v1h-1zM831,231h1v1h-1zM865,231h1v1h-1zM158,232h1v1h-1zM673,232h1v1h-1zM729,232h1v1h-1zM830,232h1v1h-1zM866,232h1v1h-1zM159,233h1v1h-1zM673,233h1v1h-1zM729,233h1v1h-1zM830,233h1v1h-1zM866,233h1v1h-1zM159,234h1v1h-1zM620,234h1v1h-1zM672,234h1v1h-1zM730,234h1v1h-1zM829,234h1v1h-1zM867,234h1v1h-1zM159,235h1v1h-1zM619,235h1v1h-1zM621,235h1v1h-1zM672,235h1v1h-1zM730,235h1v1h-1zM828,235h1v1h-1zM867,235h1v1h-1zM160,236h1v1h-1zM619,236h1v1h-1zM622,236h1v1h-1zM671,236h1v1h-1zM731,236h1v1h-1zM827,236h1v1h-1zM868,236h1v1h-1zM160,237h1v1h-1zM618,237h1v1h-1zM623,237h1v1h-1zM671,237h1v1h-1zM731,237h1v1h-1zM827,237h1v1h-1zM160,238h1v1h-1zM617,238h1v1h-1zM624,238h1v1h-1zM671,238h1v1h-1zM732,238h1v1h-1zM826,238h1v1h-1zM161,239h1v1h-1zM616,239h1v1h-1zM624,239h1v1h-1zM670,239h1v1h-1zM732,239h1v1h-1zM826,239h1v1h-1zM161,240h1v1h-1zM616,240h1v1h-1zM625,240h1v1h-1zM670,240h1v1h-1zM732,240h1v1h-1zM825,240h1v1h-1zM161,241h1v1h-1zM615,241h1v1h-1zM626,241h1v1h-1zM670,241h1v1h-1zM733,241h1v1h-1zM825,241h1v1h-1zM162,242h1v1h-1zM614,242h1v1h-1zM627,242h1v1h-1zM669,242h1v1h-1zM733,242h1v1h-1zM824,242h1v1h-1zM162,243h1v1h-1zM613,243h1v1h-1zM628,243h1v1h-1zM669,243h1v1h-1zM734,243h1v1h-1zM824,243h1v1h-1zM162,244h1v1h-1zM613,244h1v1h-1zM629,244h1v1h-1zM669,244h1v1h-1zM734,244h1v1h-1zM823,244h1v1h-1zM163,245h1v1h-1zM612,245h1v1h-1zM630,245h1v1h-1zM668,245h1v1h-1zM735,245h1v1h-1zM823,245h1v1h-1zM163,246h1v1h-1zM611,246h1v1h-1zM631,246h1v1h-1zM668,246h1v1h-1zM735,246h1v1h-1zM822,246h1v1h-1zM163,247h1v1h-1zM610,247h1v1h-1zM632,247h1v1h-1zM668,247h1v1h-1zM735,247h1v1h-1zM822,247h1v1h-1zM164,248h1v1h-1zM252,248h1v1h-1zM609,248h1v1h-1zM633,248h1v1h-1zM667,248h1v1h-1zM736,248h1v1h-1zM821,248h1v1h-1zM164,249h1v1h-1zM251,249h1v1h-1zM253,249h1v1h-1zM607,249h2v1h-2zM634,249h1v1h-1zM667,249h1v1h-1zM736,249h1v1h-1zM821,249h1v1h-1zM165,250h1v1h-1zM250,250h1v1h-1zM254,250h1v1h-1zM606,250h1v1h-1zM635,250h1v1h-1zM666,250h1v1h-1zM737,250h1v1h-1zM820,250h1v1h-1zM165,251h1v1h-1zM250,251h1v1h-1zM255,251h2v1h-2zM605,251h1v1h-1zM636,251h1v1h-1zM666,251h1v1h-1zM737,251h1v1h-1zM819,251h1v1h-1zM166,252h1v1h-1zM249,252h1v1h-1zM257,252h1v1h-1zM604,252h1v1h-1zM637,252h2v1h-2zM665,252h1v1h-1zM737,252h1v1h-1zM819,252h1v1h-1zM167,253h1v1h-1zM248,253h1v1h-1zM258,253h1v1h-1zM347,253h2v1h-2zM602,253h2v1h-2zM639,253h1v1h-1zM665,253h1v1h-1zM738,253h1v1h-1zM818,253h1v1h-1zM168,254h1v1h-1zM247,254h1v1h-1zM259,254h1v1h-1zM343,254h4v1h-4zM349,254h1v1h-1zM601,254h1v1h-1zM640,254h1v1h-1zM664,254h1v1h-1zM738,254h1v1h-1zM818,254h1v1h-1zM168,255h1v1h-1zM246,255h1v1h-1zM260,255h1v1h-1zM340,255h3v1h-3zM349,255h1v1h-1zM599,255h2v1h-2zM641,255h2v1h-2zM664,255h1v1h-1zM739,255h1v1h-1zM817,255h1v1h-1zM169,256h1v1h-1zM246,256h1v1h-1zM261,256h1v1h-1zM339,256h1v1h-1zM350,256h1v1h-1zM597,256h2v1h-2zM643,256h1v1h-1zM663,256h1v1h-1zM739,256h1v1h-1zM817,256h1v1h-1zM170,257h1v1h-1zM245,257h1v1h-1zM261,257h1v1h-1zM339,257h1v1h-1zM350,257h1v1h-1zM596,257h1v1h-1zM644,257h1v1h-1zM663,257h1v1h-1zM740,257h1v1h-1zM816,257h1v1h-1zM171,258h1v1h-1zM244,258h1v1h-1zM262,258h1v1h-1zM338,258h1v1h-1zM351,258h1v1h-1zM595,258h1v1h-1zM645,258h1v1h-1zM662,258h1v1h-1zM740,258h1v1h-1zM816,258h1v1h-1zM171,259h1v1h-1zM243,259h1v1h-1zM262,259h1v1h-1zM338,259h1v1h-1zM352,259h1v1h-1zM595,259h1v1h-1zM646,259h1v1h-1zM662,259h1v1h-1zM740,259h1v1h-1zM815,259h1v1h-1zM172,260h1v1h-1zM243,260h1v1h-1zM263,260h1v1h-1zM337,260h1v1h-1zM352,260h1v1h-1zM594,260h1v1h-1zM647,260h2v1h-2zM661,260h1v1h-1zM741,260h1v1h-1zM815,260h1v1h-1zM172,261h1v1h-1zM242,261h1v1h-1zM264,261h1v1h-1zM337,261h1v1h-1zM353,261h1v1h-1zM564,261h2v1h-2zM594,261h1v1h-1zM649,261h1v1h-1zM661,261h1v1h-1zM741,261h1v1h-1zM814,261h1v1h-1zM173,262h1v1h-1zM242,262h1v1h-1zM264,262h1v1h-1zM336,262h1v1h-1zM354,262h1v1h-1zM563,262h1v1h-1zM566,262h2v1h-2zM593,262h1v1h-1zM650,262h1v1h-1zM660,262h1v1h-1zM742,262h1v1h-1zM814,262h1v1h-1zM173,263h1v1h-1zM241,263h1v1h-1zM265,263h1v1h-1zM335,263h1v1h-1zM354,263h1v1h-1zM562,263h1v1h-1zM568,263h2v1h-2zM592,263h1v1h-1zM651,263h1v1h-1zM657,263h4v1h-4zM742,263h1v1h-1zM813,263h1v1h-1zM174,264h1v1h-1zM241,264h1v1h-1zM266,264h1v1h-1zM335,264h1v1h-1zM355,264h1v1h-1zM561,264h1v1h-1zM570,264h2v1h-2zM592,264h1v1h-1zM652,264h5v1h-5zM743,264h1v1h-1zM813,264h1v1h-1zM174,265h1v1h-1zM240,265h1v1h-1zM266,265h1v1h-1zM334,265h1v1h-1zM355,265h1v1h-1zM560,265h1v1h-1zM572,265h3v1h-3zM591,265h1v1h-1zM743,265h1v1h-1zM812,265h1v1h-1zM175,266h1v1h-1zM239,266h1v1h-1zM267,266h1v1h-1zM334,266h1v1h-1zM356,266h1v1h-1zM560,266h1v1h-1zM575,266h4v1h-4zM590,266h1v1h-1zM743,266h1v1h-1zM811,266h1v1h-1zM175,267h1v1h-1zM239,267h1v1h-1zM267,267h1v1h-1zM333,267h1v1h-1zM356,267h1v1h-1zM559,267h1v1h-1zM579,267h3v1h-3zM590,267h1v1h-1zM744,267h1v1h-1zM810,267h1v1h-1zM176,268h1v1h-1zM238,268h1v1h-1zM268,268h1v1h-1zM333,268h1v1h-1zM357,268h1v1h-1zM558,268h1v1h-1zM582,268h3v1h-3zM589,268h1v1h-1zM744,268h1v1h-1zM809,268h1v1h-1zM176,269h1v1h-1zM238,269h1v1h-1zM268,269h1v1h-1zM332,269h1v1h-1zM357,269h1v1h-1zM557,269h1v1h-1zM585,269h2v1h-2zM589,269h1v1h-1zM745,269h1v1h-1zM807,269h2v1h-2zM177,270h1v1h-1zM237,270h1v1h-1zM268,270h1v1h-1zM332,270h1v1h-1zM357,270h1v1h-1zM556,270h1v1h-1zM587,270h2v1h-2zM745,270h1v1h-1zM806,270h1v1h-1zM177,271h1v1h-1zM237,271h1v1h-1zM269,271h1v1h-1zM331,271h1v1h-1zM358,271h1v1h-1zM555,271h1v1h-1zM745,271h1v1h-1zM805,271h1v1h-1zM178,272h1v1h-1zM236,272h1v1h-1zM269,272h1v1h-1zM331,272h1v1h-1zM358,272h1v1h-1zM554,272h1v1h-1zM746,272h1v1h-1zM804,272h1v1h-1zM178,273h1v1h-1zM236,273h1v1h-1zM269,273h1v1h-1zM330,273h1v1h-1zM358,273h1v1h-1zM553,273h1v1h-1zM746,273h1v1h-1zM803,273h1v1h-1zM179,274h1v1h-1zM235,274h1v1h-1zM269,274h1v1h-1zM330,274h1v1h-1zM359,274h1v1h-1zM551,274h2v1h-2zM747,274h1v1h-1zM803,274h1v1h-1zM179,275h1v1h-1zM235,275h1v1h-1zM270,275h1v1h-1zM330,275h1v1h-1zM359,275h1v1h-1zM550,275h1v1h-1zM747,275h1v1h-1zM802,275h1v1h-1zM180,276h1v1h-1zM234,276h1v1h-1zM270,276h1v1h-1zM329,276h1v1h-1zM359,276h1v1h-1zM549,276h1v1h-1zM748,276h1v1h-1zM802,276h1v1h-1zM180,277h1v1h-1zM234,277h1v1h-1zM270,277h1v1h-1zM329,277h1v1h-1zM360,277h1v1h-1zM548,277h1v1h-1zM748,277h1v1h-1zM801,277h1v1h-1zM181,278h2v1h-2zM233,278h1v1h-1zM270,278h1v1h-1zM328,278h1v1h-1zM360,278h1v1h-1zM548,278h1v1h-1zM749,278h1v1h-1zM801,278h1v1h-1zM183,279h2v1h-2zM233,279h1v1h-1zM271,279h1v1h-1zM328,279h1v1h-1zM360,279h1v1h-1zM547,279h1v1h-1zM749,279h1v1h-1zM800,279h1v1h-1zM185,280h1v1h-1zM232,280h1v1h-1zM271,280h1v1h-1zM328,280h1v1h-1zM360,280h1v1h-1zM547,280h1v1h-1zM750,280h1v1h-1zM800,280h1v1h-1zM186,281h2v1h-2zM232,281h1v1h-1zM271,281h1v1h-1zM327,281h1v1h-1zM361,281h1v1h-1zM546,281h1v1h-1zM750,281h1v1h-1zM799,281h1v1h-1zM188,282h1v1h-1zM231,282h1v1h-1zM271,282h1v1h-1zM327,282h1v1h-1zM361,282h1v1h-1zM546,282h1v1h-1zM751,282h1v1h-1zM799,282h1v1h-1zM189,283h1v1h-1zM231,283h1v1h-1zM272,283h1v1h-1zM326,283h1v1h-1zM361,283h1v1h-1zM546,283h1v1h-1zM751,283h1v1h-1zM798,283h1v1h-1zM190,284h1v1h-1zM230,284h1v1h-1zM272,284h1v1h-1zM326,284h1v1h-1zM362,284h1v1h-1zM468,284h2v1h-2zM545,284h1v1h-1zM752,284h1v1h-1zM798,284h1v1h-1zM191,285h1v1h-1zM230,285h1v1h-1zM272,285h1v1h-1zM326,285h1v1h-1zM362,285h1v1h-1zM466,285h2v1h-2zM470,285h2v1h-2zM545,285h1v1h-1zM752,285h1v1h-1zM797,285h1v1h-1zM192,286h1v1h-1zM229,286h1v1h-1zM272,286h1v1h-1zM325,286h1v1h-1zM362,286h1v1h-1zM465,286h1v1h-1zM472,286h2v1h-2zM545,286h1v1h-1zM753,286h1v1h-1zM797,286h1v1h-1zM193,287h1v1h-1zM229,287h1v1h-1zM273,287h1v1h-1zM325,287h1v1h-1zM363,287h1v1h-1zM463,287h2v1h-2zM474,287h2v1h-2zM544,287h1v1h-1zM753,287h1v1h-1zM796,287h1v1h-1zM194,288h1v1h-1zM203,288h2v1h-2zM228,288h1v1h-1zM273,288h1v1h-1zM324,288h1v1h-1zM363,288h1v1h-1zM461,288h2v1h-2zM476,288h2v1h-2zM544,288h1v1h-1zM754,288h1v1h-1zM795,288h1v1h-1zM195,289h1v1h-1zM199,289h4v1h-4zM205,289h1v1h-1zM228,289h1v1h-1zM273,289h1v1h-1zM324,289h1v1h-1zM363,289h1v1h-1zM460,289h1v1h-1zM478,289h2v1h-2zM543,289h1v1h-1zM754,289h1v1h-1zM794,289h1v1h-1zM196,290h3v1h-3zM206,290h1v1h-1zM227,290h1v1h-1zM273,290h1v1h-1zM324,290h1v1h-1zM364,290h1v1h-1zM459,290h1v1h-1zM480,290h2v1h-2zM543,290h1v1h-1zM755,290h1v1h-1zM794,290h1v1h-1zM207,291h2v1h-2zM226,291h1v1h-1zM274,291h1v1h-1zM324,291h1v1h-1zM364,291h1v1h-1zM459,291h1v1h-1zM482,291h2v1h-2zM543,291h1v1h-1zM755,291h1v1h-1zM793,291h1v1h-1zM209,292h1v1h-1zM225,292h1v1h-1zM274,292h1v1h-1zM323,292h1v1h-1zM365,292h1v1h-1zM458,292h1v1h-1zM484,292h1v1h-1zM542,292h1v1h-1zM756,292h1v1h-1zM792,292h1v1h-1zM210,293h1v1h-1zM223,293h2v1h-2zM274,293h1v1h-1zM323,293h1v1h-1zM365,293h1v1h-1zM458,293h1v1h-1zM485,293h1v1h-1zM542,293h1v1h-1zM757,293h1v1h-1zM791,293h1v1h-1zM211,294h1v1h-1zM222,294h1v1h-1zM274,294h1v1h-1zM323,294h1v1h-1zM366,294h1v1h-1zM457,294h1v1h-1zM486,294h1v1h-1zM542,294h1v1h-1zM758,294h1v1h-1zM790,294h1v1h-1zM212,295h5v1h-5zM221,295h1v1h-1zM275,295h1v1h-1zM323,295h1v1h-1zM366,295h1v1h-1zM457,295h1v1h-1zM487,295h1v1h-1zM541,295h1v1h-1zM759,295h2v1h-2zM790,295h1v1h-1zM217,296h4v1h-4zM275,296h1v1h-1zM322,296h1v1h-1zM367,296h1v1h-1zM456,296h1v1h-1zM488,296h1v1h-1zM541,296h1v1h-1zM761,296h1v1h-1zM789,296h1v1h-1zM275,297h1v1h-1zM322,297h1v1h-1zM368,297h1v1h-1zM456,297h1v1h-1zM489,297h1v1h-1zM540,297h1v1h-1zM762,297h1v1h-1zM788,297h1v1h-1zM275,298h1v1h-1zM322,298h1v1h-1zM368,298h1v1h-1zM455,298h1v1h-1zM490,298h1v1h-1zM540,298h1v1h-1zM763,298h1v1h-1zM786,298h2v1h-2zM276,299h1v1h-1zM322,299h1v1h-1zM369,299h1v1h-1zM455,299h1v1h-1zM491,299h1v1h-1zM540,299h1v1h-1zM764,299h10v1h-10zM785,299h1v1h-1zM276,300h1v1h-1zM321,300h1v1h-1zM370,300h1v1h-1zM454,300h1v1h-1zM492,300h1v1h-1zM539,300h1v1h-1zM774,300h3v1h-3zM783,300h2v1h-2zM276,301h1v1h-1zM321,301h1v1h-1zM370,301h1v1h-1zM454,301h1v1h-1zM492,301h1v1h-1zM539,301h1v1h-1zM777,301h2v1h-2zM781,301h2v1h-2zM276,302h1v1h-1zM321,302h1v1h-1zM371,302h1v1h-1zM453,302h1v1h-1zM493,302h1v1h-1zM539,302h1v1h-1zM779,302h2v1h-2zM277,303h1v1h-1zM321,303h1v1h-1zM371,303h1v1h-1zM453,303h1v1h-1zM493,303h1v1h-1zM538,303h1v1h-1zM277,304h1v1h-1zM320,304h1v1h-1zM372,304h1v1h-1zM452,304h1v1h-1zM493,304h1v1h-1zM538,304h1v1h-1zM277,305h1v1h-1zM320,305h1v1h-1zM372,305h1v1h-1zM451,305h1v1h-1zM494,305h1v1h-1zM538,305h1v1h-1zM277,306h1v1h-1zM320,306h1v1h-1zM373,306h1v1h-1zM451,306h1v1h-1zM494,306h1v1h-1zM537,306h1v1h-1zM278,307h1v1h-1zM320,307h1v1h-1zM373,307h1v1h-1zM450,307h1v1h-1zM494,307h1v1h-1zM537,307h1v1h-1zM278,308h1v1h-1zM319,308h1v1h-1zM374,308h1v1h-1zM450,308h1v1h-1zM495,308h1v1h-1zM537,308h1v1h-1zM278,309h1v1h-1zM319,309h1v1h-1zM374,309h1v1h-1zM449,309h1v1h-1zM495,309h1v1h-1zM536,309h1v1h-1zM278,310h1v1h-1zM319,310h1v1h-1zM374,310h1v1h-1zM449,310h1v1h-1zM495,310h1v1h-1zM536,310h1v1h-1zM278,311h1v1h-1zM319,311h1v1h-1zM375,311h1v1h-1zM448,311h1v1h-1zM496,311h1v1h-1zM535,311h1v1h-1zM279,312h1v1h-1zM318,312h1v1h-1zM375,312h1v1h-1zM448,312h1v1h-1zM496,312h1v1h-1zM535,312h1v1h-1zM279,313h1v1h-1zM318,313h1v1h-1zM376,313h1v1h-1zM447,313h1v1h-1zM496,313h1v1h-1zM535,313h1v1h-1zM279,314h1v1h-1zM318,314h1v1h-1zM376,314h1v1h-1zM447,314h1v1h-1zM496,314h1v1h-1zM534,314h1v1h-1zM279,315h1v1h-1zM318,315h1v1h-1zM376,315h1v1h-1zM446,315h1v1h-1zM497,315h1v1h-1zM534,315h1v1h-1zM279,316h1v1h-1zM317,316h1v1h-1zM377,316h1v1h-1zM446,316h1v1h-1zM497,316h1v1h-1zM534,316h1v1h-1zM280,317h1v1h-1zM317,317h1v1h-1zM377,317h1v1h-1zM445,317h1v1h-1zM497,317h1v1h-1zM533,317h1v1h-1zM280,318h1v1h-1zM317,318h1v1h-1zM378,318h1v1h-1zM445,318h1v1h-1zM498,318h1v1h-1zM533,318h1v1h-1zM280,319h1v1h-1zM317,319h1v1h-1zM378,319h1v1h-1zM444,319h1v1h-1zM498,319h1v1h-1zM533,319h1v1h-1zM280,320h1v1h-1zM316,320h1v1h-1zM378,320h1v1h-1zM444,320h1v1h-1zM498,320h1v1h-1zM532,320h1v1h-1zM281,321h1v1h-1zM316,321h1v1h-1zM379,321h1v1h-1zM443,321h1v1h-1zM499,321h1v1h-1zM532,321h1v1h-1zM281,322h1v1h-1zM316,322h1v1h-1zM379,322h1v1h-1zM443,322h1v1h-1zM499,322h1v1h-1zM531,322h1v1h-1zM281,323h1v1h-1zM316,323h1v1h-1zM380,323h1v1h-1zM428,323h1v1h-1zM442,323h1v1h-1zM499,323h1v1h-1zM531,323h1v1h-1zM281,324h1v1h-1zM315,324h1v1h-1zM380,324h1v1h-1zM427,324h1v1h-1zM429,324h1v1h-1zM441,324h1v1h-1zM500,324h1v1h-1zM530,324h1v1h-1zM281,325h1v1h-1zM315,325h1v1h-1zM380,325h1v1h-1zM427,325h1v1h-1zM430,325h1v1h-1zM440,325h1v1h-1zM500,325h1v1h-1zM530,325h1v1h-1zM282,326h1v1h-1zM315,326h1v1h-1zM381,326h1v1h-1zM426,326h1v1h-1zM431,326h1v1h-1zM440,326h1v1h-1zM501,326h1v1h-1zM529,326h1v1h-1zM282,327h1v1h-1zM315,327h1v1h-1zM381,327h1v1h-1zM426,327h1v1h-1zM432,327h1v1h-1zM439,327h1v1h-1zM501,327h1v1h-1zM529,327h1v1h-1zM282,328h1v1h-1zM314,328h1v1h-1zM381,328h1v1h-1zM425,328h1v1h-1zM433,328h1v1h-1zM438,328h1v1h-1zM502,328h1v1h-1zM528,328h1v1h-1zM282,329h1v1h-1zM314,329h1v1h-1zM382,329h1v1h-1zM425,329h1v1h-1zM434,329h1v1h-1zM437,329h1v1h-1zM502,329h1v1h-1zM528,329h1v1h-1zM282,330h1v1h-1zM314,330h1v1h-1zM382,330h1v1h-1zM424,330h1v1h-1zM435,330h1v1h-1zM437,330h1v1h-1zM503,330h1v1h-1zM527,330h1v1h-1zM283,331h1v1h-1zM314,331h1v1h-1zM382,331h1v1h-1zM423,331h1v1h-1zM436,331h1v1h-1zM504,331h1v1h-1zM527,331h1v1h-1zM283,332h1v1h-1zM313,332h1v1h-1zM382,332h1v1h-1zM423,332h1v1h-1zM504,332h1v1h-1zM526,332h1v1h-1zM283,333h1v1h-1zM313,333h1v1h-1zM383,333h1v1h-1zM422,333h1v1h-1zM505,333h1v1h-1zM526,333h1v1h-1zM283,334h1v1h-1zM313,334h1v1h-1zM383,334h1v1h-1zM422,334h1v1h-1zM506,334h1v1h-1zM525,334h1v1h-1zM284,335h1v1h-1zM313,335h1v1h-1zM383,335h1v1h-1zM421,335h1v1h-1zM506,335h1v1h-1zM525,335h1v1h-1zM284,336h1v1h-1zM312,336h1v1h-1zM384,336h1v1h-1zM421,336h1v1h-1zM507,336h1v1h-1zM515,336h10v1h-10zM284,337h1v1h-1zM312,337h1v1h-1zM384,337h1v1h-1zM420,337h1v1h-1zM507,337h1v1h-1zM511,337h4v1h-4zM284,338h1v1h-1zM312,338h1v1h-1zM384,338h1v1h-1zM419,338h1v1h-1zM508,338h3v1h-3zM285,339h1v1h-1zM312,339h1v1h-1zM385,339h1v1h-1zM419,339h1v1h-1zM285,340h1v1h-1zM311,340h1v1h-1zM385,340h1v1h-1zM418,340h1v1h-1zM285,341h1v1h-1zM311,341h1v1h-1zM385,341h1v1h-1zM396,341h5v1h-5zM417,341h1v1h-1zM286,342h1v1h-1zM311,342h1v1h-1zM386,342h1v1h-1zM395,342h1v1h-1zM401,342h4v1h-4zM416,342h1v1h-1zM286,343h1v1h-1zM311,343h1v1h-1zM386,343h1v1h-1zM394,343h1v1h-1zM405,343h2v1h-2zM416,343h1v1h-1zM287,344h1v1h-1zM310,344h1v1h-1zM386,344h1v1h-1zM393,344h1v1h-1zM407,344h1v1h-1zM415,344h1v1h-1zM287,345h1v1h-1zM310,345h1v1h-1zM386,345h1v1h-1zM392,345h1v1h-1zM408,345h1v1h-1zM414,345h1v1h-1zM287,346h1v1h-1zM310,346h1v1h-1zM387,346h1v1h-1zM392,346h1v1h-1zM409,346h2v1h-2zM413,346h1v1h-1zM288,347h1v1h-1zM310,347h1v1h-1zM387,347h1v1h-1zM391,347h1v1h-1zM411,347h1v1h-1zM413,347h1v1h-1zM288,348h1v1h-1zM309,348h1v1h-1zM387,348h1v1h-1zM390,348h1v1h-1zM412,348h1v1h-1zM288,349h1v1h-1zM309,349h1v1h-1zM388,349h2v1h-2zM289,350h1v1h-1zM309,350h1v1h-1zM388,350h1v1h-1zM289,351h1v1h-1zM309,351h1v1h-1zM289,352h1v1h-1zM308,352h1v1h-1zM290,353h1v1h-1zM308,353h1v1h-1zM290,354h1v1h-1zM308,354h1v1h-1zM291,355h1v1h-1zM307,355h1v1h-1zM291,356h1v1h-1zM307,356h1v1h-1zM291,357h1v1h-1zM306,357h1v1h-1zM292,358h1v1h-1zM305,358h1v1h-1zM292,359h1v1h-1zM305,359h1v1h-1zM293,360h1v1h-1zM304,360h1v1h-1zM294,361h1v1h-1zM303,361h1v1h-1zM295,362h2v1h-2zM303,362h1v1h-1zM297,363h1v1h-1zM302,363h1v1h-1zM298,364h1v1h-1zM301,364h1v1h-1zM299,365h1v1h-1zM301,365h1v1h-1zM300,366h1v1h-1z"/>
<rect x="805" y="179" width="113" height="2" fill="#ff2020"/>
<rect x="798" y="232" width="114" height="2" fill="#99cc00"/>
<rect x="746" y="313" width="190" height="2" fill="#1e88e5"/>
</g>
<g clip-path="url(#cd)" shape-rendering="crispEdges">
<rect x="4" y="503" width="1" height="13" fill="#c0c0c0"/>
<rect x="12" y="503" width="1" height="26" fill="#c0c0c0"/>
<rect x="20" y="503" width="1" height="34" fill="#c0c0c0"/>
<rect x="28" y="503" width="1" height="40" fill="#c0c0c0"/>
<rect x="36" y="503" width="1" height="47" fill="#c0c0c0"/>
<rect x="44" y="503" width="1" height="53" fill="#c0c0c0"/>
<rect x="52" y="503" width="1" height="51" fill="#c0c0c0"/>
<rect x="60" y="503" width="1" height="44" fill="#c0c0c0"/>
<rect x="68" y="503" width="1" height="41" fill="#c0c0c0"/>
<rect x="76" y="503" width="1" height="38" fill="#c0c0c0"/>
<rect x="84" y="503" width="1" height="31" fill="#c0c0c0"/>
<rect x="92" y="503" width="1" height="25" fill="#c0c0c0"/>
<rect x="100" y="503" width="1" height="26" fill="#c0c0c0"/>
<rect x="108" y="503" width="1" height="30" fill="#c0c0c0"/>
<rect x="116" y="503" width="1" height="32" fill="#c0c0c0"/>
<rect x="124" y="503" width="1" height="34" fill="#c0c0c0"/>
<rect x="132" y="503" width="1" height="38" fill="#c0c0c0"/>
<rect x="140" y="503" width="1" height="41" fill="#c0c0c0"/>
<rect x="148" y="503" width="1" height="51" fill="#c0c0c0"/>
<rect x="156" y="503" width="1" height="62" fill="#c0c0c0"/>
<rect x="164" y="503" width="1" height="67" fill="#c0c0c0"/>
<rect x="172" y="503" width="1" height="68" fill="#c0c0c0"/>
<rect x="180" y="503" width="1" height="69" fill="#c0c0c0"/>
<rect x="188" y="503" width="1" height="73" fill="#c0c0c0"/>
<rect x="196" y="503" width="1" height="78" fill="#c0c0c0"/>
<rect x="204" y="503" width="1" height="74" fill="#c0c0c0"/>
<rect x="212" y="503" width="1" height="73" fill="#c0c0c0"/>
<rect x="220" y="503" width="1" height="71" fill="#c0c0c0"/>
<rect x="228" y="503" width="1" height="66" fill="#c0c0c0"/>
<rect x="236" y="503" width="1" height="59" fill="#c0c0c0"/>
<rect x="244" y="503" width="1" height="48" fill="#c0c0c0"/>
<rect x="252" y="503" width="1" height="43" fill="#c0c0c0"/>
<rect x="260" y="503" width="1" height="47" fill="#c0c0c0"/>
<rect x="268" y="503" width="1" height="52" fill="#c0c0c0"/>
<rect x="276" y="503" width="1" height="62" fill="#c0c0c0"/>
<rect x="284" y="503" width="1" height="67" fill="#c0c0c0"/>
<rect x="292" y="503" width="1" height="69" fill="#c0c0c0"/>
<rect x="300" y="503" width="1" height="67" fill="#c0c0c0"/>
<rect x="308" y="503" width="1" height="57" fill="#c0c0c0"/>
<rect x="316" y="503" width="1" height="46" fill="#c0c0c0"/>
<rect x="324" y="503" width="1" height="34" fill="#c0c0c0"/>
<rect x="332" y="503" width="1" height="28" fill="#c0c0c0"/>
<rect x="340" y="503" width="1" height="24" fill="#c0c0c0"/>
<rect x="348" y="503" width="1" height="20" fill="#c0c0c0"/>
<rect x="356" y="503" width="1" height="23" fill="#c0c0c0"/>
<rect x="364" y="503" width="1" height="27" fill="#c0c0c0"/>
<rect x="372" y="503" width="1" height="27" fill="#c0c0c0"/>
<rect x="380" y="503" width="1" height="34" fill="#c0c0c0"/>
<rect x="388" y="503" width="1" height="40" fill="#c0c0c0"/>
<rect x="396" y="503" width="1" height="32" fill="#c0c0c0"/>
<rect x="404" y="503" width="1" height="32" fill="#c0c0c0"/>
<rect x="412" y="503" width="1" height="34" fill="#c0c0c0"/>
<rect x="420" y="503" width="1" height="32" fill="#c0c0c0"/>
<rect x="428" y="503" width="1" height="28" fill="#c0c0c0"/>
<rect x="436" y="503" width="1" height="26" fill="#c0c0c0"/>
<rect x="444" y="503" width="1" height="19" fill="#c0c0c0"/>
<rect x="452" y="503" width="1" height="14" fill="#c0c0c0"/>
<rect x="460" y="503" width="1" height="6" fill="#c0c0c0"/>
<rect x="468" y="503" width="1" height="4" fill="#c0c0c0"/>
<rect x="476" y="503" width="1" height="9" fill="#c0c0c0"/>
<rect x="484" y="503" width="1" height="7" fill="#c0c0c0"/>
<rect x="492" y="503" width="1" height="7" fill="#c0c0c0"/>
<rect x="500" y="503" width="1" height="14" fill="#c0c0c0"/>
<rect x="508" y="503" width="1" height="18" fill="#c0c0c0"/>
<rect x="516" y="503" width="1" height="16" fill="#c0c0c0"/>
<rect x="524" y="503" width="1" height="12" fill="#c0c0c0"/>
<rect x="532" y="503" width="1" height="4" fill="#c0c0c0"/>
<rect x="540" y="501" width="1" height="3" fill="#c0c0c0"/>
<rect x="548" y="497" width="1" height="7" fill="#c0c0c0"/>
<rect x="556" y="498" width="1" height="6" fill="#c0c0c0"/>
<rect x="564" y="494" width="1" height="10" fill="#c0c0c0"/>
<rect x="572" y="493" width="1" height="11" fill="#c0c0c0"/>
<rect x="580" y="491" width="1" height="13" fill="#c0c0c0"/>
<rect x="588" y="490" width="1" height="14" fill="#c0c0c0"/>
<rect x="596" y="486" width="1" height="18" fill="#c0c0c0"/>
<rect x="604" y="483" width="1" height="21" fill="#c0c0c0"/>
<rect x="612" y="481" width="1" height="23" fill="#c0c0c0"/>
<rect x="620" y="477" width="1" height="27" fill="#c0c0c0"/>
<rect x="628" y="485" width="1" height="19" fill="#c0c0c0"/>
<rect x="636" y="487" width="1" height="17" fill="#c0c0c0"/>
<rect x="644" y="489" width="1" height="15" fill="#c0c0c0"/>
<rect x="652" y="490" width="1" height="14" fill="#c0c0c0"/>
<rect x="660" y="484" width="1" height="20" fill="#c0c0c0"/>
<rect x="668" y="482" width="1" height="22" fill="#c0c0c0"/>
<rect x="676" y="475" width="1" height="29" fill="#c0c0c0"/>
<rect x="684" y="468" width="1" height="36" fill="#c0c0c0"/>
<rect x="692" y="467" width="1" height="37" fill="#c0c0c0"/>
<rect x="700" y="468" width="1" height="36" fill="#c0c0c0"/>
<rect x="708" y="470" width="1" height="34" fill="#c0c0c0"/>
<rect x="716" y="474" width="1" height="30" fill="#c0c0c0"/>
<rect x="724" y="482" width="1" height="22" fill="#c0c0c0"/>
<rect x="732" y="490" width="1" height="14" fill="#c0c0c0"/>
<rect x="740" y="498" width="1" height="6" fill="#c0c0c0"/>
<rect x="756" y="503" width="1" height="6" fill="#c0c0c0"/>
<rect x="764" y="503" width="1" height="11" fill="#c0c0c0"/>
<rect x="772" y="503" width="1" height="12" fill="#c0c0c0"/>
<rect x="780" y="503" width="1" height="14" fill="#c0c0c0"/>
<rect x="788" y="503" width="1" height="13" fill="#c0c0c0"/>
<rect x="796" y="503" width="1" height="10" fill="#c0c0c0"/>
<rect x="804" y="503" width="1" height="6" fill="#c0c0c0"/>
<rect x="812" y="503" width="1" height="3" fill="#c0c0c0"/>
<rect x="828" y="497" width="1" height="7" fill="#c0c0c0"/>
<rect x="836" y="492" width="1" height="12" fill="#c0c0c0"/>
<rect x="844" y="489" width="1" height="15" fill="#c0c0c0"/>
<rect x="852" y="491" width="1" height="13" fill="#c0c0c0"/>
<rect x="860" y="494" width="1" height="10" fill="#c0c0c0"/>
<rect x="868" y="497" width="1" height="7" fill="#c0c0c0"/>
<rect x="4" y="472" width="1" height="1" fill="#ff0000"/>
<rect x="5" y="473" width="1" height="1" fill="#ff0000"/>
<rect x="6" y="474" width="1" height="1" fill="#ff0000"/>
<rect x="718" y="475" width="3" height="1" fill="#ff0000"/>
<rect x="724" y="475" width="3" height="1" fill="#ff0000"/>
<rect x="730" y="475" width="3" height="1" fill="#ff0000"/>
<rect x="712" y="476" width="3" height="1" fill="#ff0000"/>
<rect x="736" y="476" width="3" height="1" fill="#ff0000"/>
<rect x="707" y="477" width="2" height="1" fill="#ff0000"/>
<rect x="10" y="478" width="1" height="1" fill="#ff0000"/>
<rect x="706" y="478" width="1" height="1" fill="#ff0000"/>
<rect x="742" y="478" width="3" height="1" fill="#ff0000"/>
<rect x="11" y="479" width="1" height="1" fill="#ff0000"/>
<rect x="700" y="479" width="3" height="1" fill="#ff0000"/>
<rect x="12" y="480" width="1" height="1" fill="#ff0000"/>
<rect x="695" y="480" width="2" height="1" fill="#ff0000"/>
<rect x="748" y="480" width="2" height="1" fill="#ff0000"/>
<rect x="689" y="481" width="2" height="1" fill="#ff0000"/>
<rect x="694" y="481" width="1" height="1" fill="#ff0000"/>
<rect x="750" y="481" width="1" height="1" fill="#ff0000"/>
<rect x="682" y="482" width="3" height="1" fill="#ff0000"/>
<rect x="688" y="482" width="1" height="1" fill="#ff0000"/>
<rect x="676" y="483" width="3" height="1" fill="#ff0000"/>
<rect x="754" y="483" width="2" height="1" fill="#ff0000"/>
<rect x="15" y="484" width="1" height="1" fill="#ff0000"/>
<rect x="665" y="484" width="2" height="1" fill="#ff0000"/>
<rect x="670" y="484" width="3" height="1" fill="#ff0000"/>
<rect x="756" y="484" width="1" height="1" fill="#ff0000"/>
<rect x="16" y="485" width="1" height="1" fill="#ff0000"/>
<rect x="641" y="485" width="2" height="1" fill="#ff0000"/>
<rect x="646" y="485" width="3" height="1" fill="#ff0000"/>
<rect x="652" y="485" width="3" height="1" fill="#ff0000"/>
<rect x="658" y="485" width="3" height="1" fill="#ff0000"/>
<rect x="664" y="485" width="1" height="1" fill="#ff0000"/>
<rect x="17" y="486" width="1" height="1" fill="#ff0000"/>
<rect x="634" y="486" width="3" height="1" fill="#ff0000"/>
<rect x="640" y="486" width="1" height="1" fill="#ff0000"/>
<rect x="628" y="487" width="3" height="1" fill="#ff0000"/>
<rect x="760" y="487" width="1" height="1" fill="#ff0000"/>
<rect x="622" y="488" width="3" height="1" fill="#ff0000"/>
<rect x="761" y="488" width="2" height="1" fill="#ff0000"/>
<rect x="616" y="489" width="3" height="1" fill="#ff0000"/>
<rect x="20" y="490" width="1" height="1" fill="#ff0000"/>
<rect x="611" y="490" width="2" height="1" fill="#ff0000"/>
<rect x="21" y="491" width="1" height="1" fill="#ff0000"/>
<rect x="610" y="491" width="1" height="1" fill="#ff0000"/>
<rect x="766" y="491" width="1" height="1" fill="#ff0000"/>
<rect x="22" y="492" width="1" height="1" fill="#ff0000"/>
<rect x="606" y="492" width="1" height="1" fill="#ff0000"/>
<rect x="767" y="492" width="2" height="1" fill="#ff0000"/>
<rect x="604" y="493" width="2" height="1" fill="#ff0000"/>
<rect x="599" y="494" width="2" height="1" fill="#ff0000"/>
<rect x="598" y="495" width="1" height="1" fill="#ff0000"/>
<rect x="772" y="495" width="1" height="1" fill="#ff0000"/>
<rect x="25" y="496" width="1" height="1" fill="#ff0000"/>
<rect x="593" y="496" width="2" height="1" fill="#ff0000"/>
<rect x="773" y="496" width="2" height="1" fill="#ff0000"/>
<rect x="26" y="497" width="1" height="1" fill="#ff0000"/>
<rect x="592" y="497" width="1" height="1" fill="#ff0000"/>
<rect x="868" y="497" width="1" height="1" fill="#ff0000"/>
<rect x="26" y="498" width="1" height="1" fill="#ff0000"/>
<rect x="588" y="498" width="1" height="1" fill="#ff0000"/>
<rect x="863" y="498" width="2" height="1" fill="#ff0000"/>
<rect x="586" y="499" width="2" height="1" fill="#ff0000"/>
<rect x="778" y="499" width="2" height="1" fill="#ff0000"/>
<rect x="862" y="499" width="1" height="1" fill="#ff0000"/>
<rect x="780" y="500" width="1" height="1" fill="#ff0000"/>
<rect x="857" y="500" width="2" height="1" fill="#ff0000"/>
<rect x="582" y="501" width="1" height="1" fill="#ff0000"/>
<rect x="856" y="501" width="1" height="1" fill="#ff0000"/>
<rect x="29" y="502" width="1" height="1" fill="#ff0000"/>
<rect x="580" y="502" width="2" height="1" fill="#ff0000"/>
<rect x="784" y="502" width="1" height="1" fill="#ff0000"/>
<rect x="851" y="502" width="2" height="1" fill="#ff0000"/>
<rect x="29" y="503" width="1" height="1" fill="#ff0000"/>
<rect x="785" y="503" width="1" height="1" fill="#ff0000"/>
<rect x="850" y="503" width="1" height="1" fill="#ff0000"/>
<rect x="30" y="504" width="1" height="1" fill="#ff0000"/>
<rect x="574" y="504" width="3" height="1" fill="#ff0000"/>
<rect x="786" y="504" width="1" height="1" fill="#ff0000"/>
<rect x="846" y="504" width="1" height="1" fill="#ff0000"/>
<rect x="844" y="505" width="2" height="1" fill="#ff0000"/>
<rect x="569" y="506" width="2" height="1" fill="#ff0000"/>
<rect x="790" y="506" width="3" height="1" fill="#ff0000"/>
<rect x="568" y="507" width="1" height="1" fill="#ff0000"/>
<rect x="838" y="507" width="3" height="1" fill="#ff0000"/>
<rect x="33" y="508" width="1" height="1" fill="#ff0000"/>
<rect x="562" y="508" width="3" height="1" fill="#ff0000"/>
<rect x="796" y="508" width="3" height="1" fill="#ff0000"/>
<rect x="33" y="509" width="1" height="1" fill="#ff0000"/>
<rect x="556" y="509" width="3" height="1" fill="#ff0000"/>
<rect x="802" y="509" width="1" height="1" fill="#ff0000"/>
<rect x="832" y="509" width="3" height="1" fill="#ff0000"/>
<rect x="34" y="510" width="1" height="1" fill="#ff0000"/>
<rect x="551" y="510" width="2" height="1" fill="#ff0000"/>
<rect x="803" y="510" width="2" height="1" fill="#ff0000"/>
<rect x="808" y="510" width="1" height="1" fill="#ff0000"/>
<rect x="826" y="510" width="3" height="1" fill="#ff0000"/>
<rect x="545" y="511" width="2" height="1" fill="#ff0000"/>
<rect x="550" y="511" width="1" height="1" fill="#ff0000"/>
<rect x="809" y="511" width="2" height="1" fill="#ff0000"/>
<rect x="814" y="511" width="3" height="1" fill="#ff0000"/>
<rect x="820" y="511" width="3" height="1" fill="#ff0000"/>
<rect x="538" y="512" width="3" height="1" fill="#ff0000"/>
<rect x="544" y="512" width="1" height="1" fill="#ff0000"/>
<rect x="514" y="513" width="3" height="1" fill="#ff0000"/>
<rect x="520" y="513" width="3" height="1" fill="#ff0000"/>
<rect x="526" y="513" width="3" height="1" fill="#ff0000"/>
<rect x="532" y="513" width="3" height="1" fill="#ff0000"/>
<rect x="36" y="514" width="1" height="1" fill="#ff0000"/>
<rect x="508" y="514" width="3" height="1" fill="#ff0000"/>
<rect x="37" y="515" width="1" height="1" fill="#ff0000"/>
<rect x="497" y="515" width="2" height="1" fill="#ff0000"/>
<rect x="502" y="515" width="3" height="1" fill="#ff0000"/>
<rect x="38" y="516" width="1" height="1" fill="#ff0000"/>
<rect x="491" y="516" width="2" height="1" fill="#ff0000"/>
<rect x="496" y="516" width="1" height="1" fill="#ff0000"/>
<rect x="490" y="517" width="1" height="1" fill="#ff0000"/>
<rect x="486" y="518" width="1" height="1" fill="#ff0000"/>
<rect x="484" y="519" width="2" height="1" fill="#ff0000"/>
<rect x="41" y="520" width="1" height="1" fill="#ff0000"/>
<rect x="42" y="521" width="1" height="1" fill="#ff0000"/>
<rect x="478" y="521" width="3" height="1" fill="#ff0000"/>
<rect x="43" y="522" width="1" height="1" fill="#ff0000"/>
<rect x="473" y="523" width="2" height="1" fill="#ff0000"/>
<rect x="472" y="524" width="1" height="1" fill="#ff0000"/>
<rect x="467" y="525" width="2" height="1" fill="#ff0000"/>
<rect x="47" y="526" width="1" height="1" fill="#ff0000"/>
<rect x="466" y="526" width="1" height="1" fill="#ff0000"/>
<rect x="48" y="527" width="1" height="1" fill="#ff0000"/>
<rect x="462" y="527" width="1" height="1" fill="#ff0000"/>
<rect x="48" y="528" width="1" height="1" fill="#ff0000"/>
<rect x="460" y="528" width="2" height="1" fill="#ff0000"/>
<rect x="456" y="530" width="1" height="1" fill="#ff0000"/>
<rect x="388" y="531" width="3" height="1" fill="#ff0000"/>
<rect x="394" y="531" width="3" height="1" fill="#ff0000"/>
<rect x="400" y="531" width="1" height="1" fill="#ff0000"/>
<rect x="454" y="531" width="2" height="1" fill="#ff0000"/>
<rect x="52" y="532" width="1" height="1" fill="#ff0000"/>
<rect x="382" y="532" width="3" height="1" fill="#ff0000"/>
<rect x="401" y="532" width="2" height="1" fill="#ff0000"/>
<rect x="406" y="532" width="3" height="1" fill="#ff0000"/>
<rect x="53" y="533" width="2" height="1" fill="#ff0000"/>
<rect x="377" y="533" width="2" height="1" fill="#ff0000"/>
<rect x="412" y="533" width="3" height="1" fill="#ff0000"/>
<rect x="448" y="533" width="3" height="1" fill="#ff0000"/>
<rect x="376" y="534" width="1" height="1" fill="#ff0000"/>
<rect x="418" y="534" width="3" height="1" fill="#ff0000"/>
<rect x="424" y="534" width="1" height="1" fill="#ff0000"/>
<rect x="442" y="534" width="3" height="1" fill="#ff0000"/>
<rect x="372" y="535" width="1" height="1" fill="#ff0000"/>
<rect x="425" y="535" width="2" height="1" fill="#ff0000"/>
<rect x="430" y="535" width="3" height="1" fill="#ff0000"/>
<rect x="436" y="535" width="3" height="1" fill="#ff0000"/>
<rect x="58" y="536" width="1" height="1" fill="#ff0000"/>
<rect x="124" y="536" width="3" height="1" fill="#ff0000"/>
<rect x="130" y="536" width="3" height="1" fill="#ff0000"/>
<rect x="136" y="536" width="3" height="1" fill="#ff0000"/>
<rect x="142" y="536" width="3" height="1" fill="#ff0000"/>
<rect x="370" y="536" width="2" height="1" fill="#ff0000"/>
<rect x="59" y="537" width="2" height="1" fill="#ff0000"/>
<rect x="119" y="537" width="2" height="1" fill="#ff0000"/>
<rect x="148" y="537" width="2" height="1" fill="#ff0000"/>
<rect x="118" y="538" width="1" height="1" fill="#ff0000"/>
<rect x="150" y="538" width="1" height="1" fill="#ff0000"/>
<rect x="366" y="538" width="1" height="1" fill="#ff0000"/>
<rect x="113" y="539" width="2" height="1" fill="#ff0000"/>
<rect x="364" y="539" width="2" height="1" fill="#ff0000"/>
<rect x="64" y="540" width="1" height="1" fill="#ff0000"/>
<rect x="112" y="540" width="1" height="1" fill="#ff0000"/>
<rect x="154" y="540" width="2" height="1" fill="#ff0000"/>
<rect x="65" y="541" width="2" height="1" fill="#ff0000"/>
<rect x="106" y="541" width="3" height="1" fill="#ff0000"/>
<rect x="156" y="541" width="1" height="1" fill="#ff0000"/>
<rect x="100" y="542" width="3" height="1" fill="#ff0000"/>
<rect x="359" y="542" width="2" height="1" fill="#ff0000"/>
<rect x="70" y="543" width="3" height="1" fill="#ff0000"/>
<rect x="95" y="543" width="2" height="1" fill="#ff0000"/>
<rect x="160" y="543" width="2" height="1" fill="#ff0000"/>
<rect x="358" y="543" width="1" height="1" fill="#ff0000"/>
<rect x="89" y="544" width="2" height="1" fill="#ff0000"/>
<rect x="94" y="544" width="1" height="1" fill="#ff0000"/>
<rect x="162" y="544" width="1" height="1" fill="#ff0000"/>
<rect x="76" y="545" width="3" height="1" fill="#ff0000"/>
<rect x="82" y="545" width="3" height="1" fill="#ff0000"/>
<rect x="88" y="545" width="1" height="1" fill="#ff0000"/>
<rect x="354" y="545" width="1" height="1" fill="#ff0000"/>
<rect x="166" y="546" width="1" height="1" fill="#ff0000"/>
<rect x="353" y="546" width="1" height="1" fill="#ff0000"/>
<rect x="167" y="547" width="2" height="1" fill="#ff0000"/>
<rect x="352" y="547" width="1" height="1" fill="#ff0000"/>
<rect x="348" y="549" width="1" height="1" fill="#ff0000"/>
<rect x="172" y="550" width="2" height="1" fill="#ff0000"/>
<rect x="346" y="550" width="2" height="1" fill="#ff0000"/>
<rect x="174" y="551" width="1" height="1" fill="#ff0000"/>
<rect x="342" y="552" width="1" height="1" fill="#ff0000"/>
<rect x="178" y="553" width="2" height="1" fill="#ff0000"/>
<rect x="340" y="553" width="2" height="1" fill="#ff0000"/>
<rect x="180" y="554" width="1" height="1" fill="#ff0000"/>
<rect x="334" y="555" width="3" height="1" fill="#ff0000"/>
<rect x="184" y="556" width="1" height="1" fill="#ff0000"/>
<rect x="185" y="557" width="1" height="1" fill="#ff0000"/>
<rect x="329" y="557" width="2" height="1" fill="#ff0000"/>
<rect x="186" y="558" width="1" height="1" fill="#ff0000"/>
<rect x="328" y="558" width="1" height="1" fill="#ff0000"/>
<rect x="322" y="559" width="3" height="1" fill="#ff0000"/>
<rect x="190" y="560" width="1" height="1" fill="#ff0000"/>
<rect x="281" y="560" width="2" height="1" fill="#ff0000"/>
<rect x="286" y="560" width="3" height="1" fill="#ff0000"/>
<rect x="292" y="560" width="3" height="1" fill="#ff0000"/>
<rect x="298" y="560" width="3" height="1" fill="#ff0000"/>
<rect x="304" y="560" width="3" height="1" fill="#ff0000"/>
<rect x="310" y="560" width="3" height="1" fill="#ff0000"/>
<rect x="316" y="560" width="3" height="1" fill="#ff0000"/>
<rect x="191" y="561" width="2" height="1" fill="#ff0000"/>
<rect x="274" y="561" width="3" height="1" fill="#ff0000"/>
<rect x="280" y="561" width="1" height="1" fill="#ff0000"/>
<rect x="268" y="562" width="3" height="1" fill="#ff0000"/>
<rect x="196" y="564" width="2" height="1" fill="#ff0000"/>
<rect x="262" y="564" width="3" height="1" fill="#ff0000"/>
<rect x="198" y="565" width="1" height="1" fill="#ff0000"/>
<rect x="257" y="566" width="2" height="1" fill="#ff0000"/>
<rect x="202" y="567" width="2" height="1" fill="#ff0000"/>
<rect x="256" y="567" width="1" height="1" fill="#ff0000"/>
<rect x="204" y="568" width="1" height="1" fill="#ff0000"/>
<rect x="251" y="568" width="2" height="1" fill="#ff0000"/>
<rect x="208" y="569" width="1" height="1" fill="#ff0000"/>
<rect x="250" y="569" width="1" height="1" fill="#ff0000"/>
<rect x="209" y="570" width="2" height="1" fill="#ff0000"/>
<rect x="246" y="570" width="1" height="1" fill="#ff0000"/>
<rect x="244" y="571" width="2" height="1" fill="#ff0000"/>
<rect x="214" y="572" width="3" height="1" fill="#ff0000"/>
<rect x="239" y="572" width="2" height="1" fill="#ff0000"/>
<rect x="233" y="573" width="2" height="1" fill="#ff0000"/>
<rect x="238" y="573" width="1" height="1" fill="#ff0000"/>
<rect x="220" y="574" width="3" height="1" fill="#ff0000"/>
<rect x="226" y="574" width="3" height="1" fill="#ff0000"/>
<rect x="232" y="574" width="1" height="1" fill="#ff0000"/>
</g>
<text x="19.3" y="43" font-size="10" fill="#000" textLength="63.6" lengthAdjust="spacingAndGlyphs" text-rendering="geometricPrecision" stroke="#000" stroke-width="0.2">EURUSD,Daily</text>
<text x="89.6" y="43" font-size="10" fill="#000" textLength="32.0" lengthAdjust="spacingAndGlyphs" text-rendering="geometricPrecision" stroke="#000" stroke-width="0.2">1.14059</text>
<text x="125.5" y="43" font-size="10" fill="#000" textLength="32.5" lengthAdjust="spacingAndGlyphs" text-rendering="geometricPrecision" stroke="#000" stroke-width="0.2">1.14163</text>
<text x="161.5" y="43" font-size="10" fill="#000" textLength="32.5" lengthAdjust="spacingAndGlyphs" text-rendering="geometricPrecision" stroke="#000" stroke-width="0.2">1.13970</text>
<text x="197.5" y="43" font-size="10" fill="#000" textLength="32.0" lengthAdjust="spacingAndGlyphs" text-rendering="geometricPrecision" stroke="#000" stroke-width="0.2">1.14011</text>
<path d="M7,38 L14,38 L10.5,42 Z" fill="#000"/>
<text x="8.5" y="472" font-size="10" fill="#000" textLength="65.3" lengthAdjust="spacingAndGlyphs" text-rendering="geometricPrecision" stroke="#000" stroke-width="0.2">MACD(12,26,9)</text>
<text x="77.3" y="472" font-size="10" fill="#000" textLength="37.6" lengthAdjust="spacingAndGlyphs" text-rendering="geometricPrecision" stroke="#000" stroke-width="0.2">0.000473</text>
<text x="118.4" y="472" font-size="10" fill="#000" textLength="37.5" lengthAdjust="spacingAndGlyphs" text-rendering="geometricPrecision" stroke="#000" stroke-width="0.2">0.000432</text>
<rect x="1107" y="58" width="2" height="1" fill="#000"/>
<text x="1112.7" y="62" font-size="10" fill="#000" textLength="31.6" lengthAdjust="spacingAndGlyphs" text-rendering="geometricPrecision" stroke="#000" stroke-width="0.2">1.16150</text>
<rect x="1107" y="91" width="2" height="1" fill="#000"/>
<text x="1112.7" y="95" font-size="10" fill="#000" textLength="31.6" lengthAdjust="spacingAndGlyphs" text-rendering="geometricPrecision" stroke="#000" stroke-width="0.2">1.15810</text>
<rect x="1107" y="124" width="2" height="1" fill="#000"/>
<text x="1112.7" y="128" font-size="10" fill="#000" textLength="31.6" lengthAdjust="spacingAndGlyphs" text-rendering="geometricPrecision" stroke="#000" stroke-width="0.2">1.15470</text>
<rect x="1107" y="157" width="2" height="1" fill="#000"/>
<text x="1112.7" y="161" font-size="10" fill="#000" textLength="31.6" lengthAdjust="spacingAndGlyphs" text-rendering="geometricPrecision" stroke="#000" stroke-width="0.2">1.15130</text>
<rect x="1107" y="190" width="2" height="1" fill="#000"/>
<text x="1112.7" y="194" font-size="10" fill="#000" textLength="31.6" lengthAdjust="spacingAndGlyphs" text-rendering="geometricPrecision" stroke="#000" stroke-width="0.2">1.14790</text>
<rect x="1107" y="223" width="2" height="1" fill="#000"/>
<text x="1112.7" y="227" font-size="10" fill="#000" textLength="31.6" lengthAdjust="spacingAndGlyphs" text-rendering="geometricPrecision" stroke="#000" stroke-width="0.2">1.14450</text>
<rect x="1107" y="256" width="2" height="1" fill="#000"/>
<text x="1112.7" y="260" font-size="10" fill="#000" textLength="31.6" lengthAdjust="spacingAndGlyphs" text-rendering="geometricPrecision" stroke="#000" stroke-width="0.2">1.14110</text>
<rect x="1107" y="289" width="2" height="1" fill="#000"/>
<text x="1112.7" y="293" font-size="10" fill="#000" textLength="31.6" lengthAdjust="spacingAndGlyphs" text-rendering="geometricPrecision" stroke="#000" stroke-width="0.2">1.13770</text>
<rect x="1107" y="322" width="2" height="1" fill="#000"/>
<text x="1112.7" y="326" font-size="10" fill="#000" textLength="31.6" lengthAdjust="spacingAndGlyphs" text-rendering="geometricPrecision" stroke="#000" stroke-width="0.2">1.13430</text>
<rect x="1107" y="355" width="2" height="1" fill="#000"/>
<text x="1112.7" y="359" font-size="10" fill="#000" textLength="31.6" lengthAdjust="spacingAndGlyphs" text-rendering="geometricPrecision" stroke="#000" stroke-width="0.2">1.13090</text>
<rect x="1107" y="388" width="2" height="1" fill="#000"/>
<text x="1112.7" y="392" font-size="10" fill="#000" textLength="31.6" lengthAdjust="spacingAndGlyphs" text-rendering="geometricPrecision" stroke="#000" stroke-width="0.2">1.12750</text>
<rect x="1107" y="421" width="2" height="1" fill="#000"/>
<text x="1112.7" y="425" font-size="10" fill="#000" textLength="31.6" lengthAdjust="spacingAndGlyphs" text-rendering="geometricPrecision" stroke="#000" stroke-width="0.2">1.12410</text>
<rect x="1107" y="454" width="2" height="1" fill="#000"/>
<text x="1112.7" y="458" font-size="10" fill="#000" textLength="31.6" lengthAdjust="spacingAndGlyphs" text-rendering="geometricPrecision" stroke="#000" stroke-width="0.2">1.12070</text>
<rect x="1108" y="260" width="41" height="11" fill="#000"/>
<rect x="1106" y="265" width="1" height="1" fill="#fff"/>
<text x="1112.8" y="269" font-size="10" fill="#fff" textLength="32.0" lengthAdjust="spacingAndGlyphs" text-rendering="geometricPrecision" stroke="#fff" stroke-width="0.2">1.14011</text>
<rect x="1107" y="461" width="1" height="1" fill="#000"/>
<text x="1110.7" y="470" font-size="10" fill="#000" textLength="37.0" lengthAdjust="spacingAndGlyphs" text-rendering="geometricPrecision" stroke="#000" stroke-width="0.2">0.003216</text>
<rect x="1107" y="503" width="1" height="1" fill="#000"/>
<text x="1110.3" y="507" font-size="10" fill="#000" textLength="17.2" lengthAdjust="spacingAndGlyphs" text-rendering="geometricPrecision" stroke="#000" stroke-width="0.2">0.00</text>
<rect x="1107" y="587" width="1" height="1" fill="#000"/>
<text x="1110.2" y="585" font-size="10" fill="#000" textLength="40.2" lengthAdjust="spacingAndGlyphs" text-rendering="geometricPrecision" stroke="#000" stroke-width="0.2">-0.006485</text>
<rect x="4" y="589" width="1" height="3" fill="#000"/>
<text x="3.4" y="601" font-size="10" fill="#000" textLength="45.2" lengthAdjust="spacingAndGlyphs" text-rendering="geometricPrecision" stroke="#000" stroke-width="0.2">3 Oct 2018</text>
<rect x="68" y="589" width="1" height="3" fill="#000"/>
<text x="67.4" y="601" font-size="10" fill="#000" textLength="50.2" lengthAdjust="spacingAndGlyphs" text-rendering="geometricPrecision" stroke="#000" stroke-width="0.2">12 Oct 2018</text>
<rect x="132" y="589" width="1" height="3" fill="#000"/>
<text x="131.4" y="601" font-size="10" fill="#000" textLength="50.3" lengthAdjust="spacingAndGlyphs" text-rendering="geometricPrecision" stroke="#000" stroke-width="0.2">22 Oct 2018</text>
<rect x="196" y="589" width="1" height="3" fill="#000"/>
<text x="195.4" y="601" font-size="10" fill="#000" textLength="50.4" lengthAdjust="spacingAndGlyphs" text-rendering="geometricPrecision" stroke="#000" stroke-width="0.2">31 Oct 2018</text>
<rect x="260" y="589" width="1" height="3" fill="#000"/>
<text x="259.4" y="601" font-size="10" fill="#000" textLength="49.2" lengthAdjust="spacingAndGlyphs" text-rendering="geometricPrecision" stroke="#000" stroke-width="0.2">9 Nov 2018</text>
<rect x="324" y="589" width="1" height="3" fill="#000"/>
<text x="323.4" y="601" font-size="10" fill="#000" textLength="53.1" lengthAdjust="spacingAndGlyphs" text-rendering="geometricPrecision" stroke="#000" stroke-width="0.2">19 Nov 2018</text>
<rect x="388" y="589" width="1" height="3" fill="#000"/>
<text x="387.4" y="601" font-size="10" fill="#000" textLength="53.6" lengthAdjust="spacingAndGlyphs" text-rendering="geometricPrecision" stroke="#000" stroke-width="0.2">28 Nov 2018</text>
<rect x="452" y="589" width="1" height="3" fill="#000"/>
<text x="451.4" y="601" font-size="10" fill="#000" textLength="46.3" lengthAdjust="spacingAndGlyphs" text-rendering="geometricPrecision" stroke="#000" stroke-width="0.2">7 Dec 2018</text>
<rect x="516" y="589" width="1" height="3" fill="#000"/>
<text x="515.4" y="601" font-size="10" fill="#000" textLength="51.3" lengthAdjust="spacingAndGlyphs" text-rendering="geometricPrecision" stroke="#000" stroke-width="0.2">17 Dec 2018</text>
<rect x="580" y="589" width="1" height="3" fill="#000"/>
<text x="579.4" y="601" font-size="10" fill="#000" textLength="51.3" lengthAdjust="spacingAndGlyphs" text-rendering="geometricPrecision" stroke="#000" stroke-width="0.2">26 Dec 2018</text>
<rect x="644" y="589" width="1" height="3" fill="#000"/>
<text x="643.4" y="601" font-size="10" fill="#000" textLength="44.3" lengthAdjust="spacingAndGlyphs" text-rendering="geometricPrecision" stroke="#000" stroke-width="0.2">4 Jan 2019</text>
<rect x="708" y="589" width="1" height="3" fill="#000"/>
<text x="707.4" y="601" font-size="10" fill="#000" textLength="49.0" lengthAdjust="spacingAndGlyphs" text-rendering="geometricPrecision" stroke="#000" stroke-width="0.2">14 Jan 2019</text>
<rect x="772" y="589" width="1" height="3" fill="#000"/>
<text x="771.4" y="601" font-size="10" fill="#000" textLength="49.0" lengthAdjust="spacingAndGlyphs" text-rendering="geometricPrecision" stroke="#000" stroke-width="0.2">23 Jan 2019</text>
<rect x="836" y="589" width="1" height="3" fill="#000"/>
<text x="835.4" y="601" font-size="10" fill="#000" textLength="46.3" lengthAdjust="spacingAndGlyphs" text-rendering="geometricPrecision" stroke="#000" stroke-width="0.2">1 Feb 2019</text>
<rect x="0" y="611" width="1151" height="1" fill="#000"/>
<rect x="0" y="612" width="1" height="18" fill="#646464"/>
<rect x="5" y="611" width="104" height="19" fill="#000"/>
<rect x="6" y="611" width="102" height="18" fill="#ffffff"/>
<rect x="0" y="631" width="1151" height="1" fill="#ffffff"/>
<rect x="0" y="635" width="1151" height="1" fill="#a0a0a0"/>
<rect x="0" y="636" width="1151" height="1" fill="#ffffff"/>
<text x="17.8" y="626" font-size="12.3" fill="#000" textLength="79.1" lengthAdjust="spacingAndGlyphs">EURUSD,Daily</text>
<text x="120.3" y="626" font-size="12.3" fill="#5f5f5f" textLength="81.7" lengthAdjust="spacingAndGlyphs">AUDUSD,Daily</text>
<text x="223.7" y="626" font-size="12.3" fill="#5f5f5f" textLength="78.2" lengthAdjust="spacingAndGlyphs">USDCHF,Daily</text>
<text x="324.5" y="626" font-size="12.3" fill="#5f5f5f" textLength="80.2" lengthAdjust="spacingAndGlyphs">USDCAD,Daily</text>
<text x="428.7" y="626" font-size="12.3" fill="#5f5f5f" textLength="96.4" lengthAdjust="spacingAndGlyphs">USDCNH,Weekly</text>
<text x="547.7" y="626" font-size="12.3" fill="#5f5f5f" textLength="65.5" lengthAdjust="spacingAndGlyphs">EURGBP,H1</text>
<text x="636.5" y="626" font-size="12.3" fill="#5f5f5f" textLength="68.7" lengthAdjust="spacingAndGlyphs">NZDUSD,H1</text>
<rect x="213" y="614" width="1" height="14" fill="#7a7a7a"/>
<rect x="313" y="614" width="1" height="14" fill="#7a7a7a"/>
<rect x="417" y="614" width="1" height="14" fill="#7a7a7a"/>
<rect x="537" y="614" width="1" height="14" fill="#7a7a7a"/>
<rect x="625" y="614" width="1" height="14" fill="#7a7a7a"/>
<rect x="717" y="614" width="1" height="14" fill="#7a7a7a"/>
<path d="M1125,617 L1122,620.5 L1125,624 Z" fill="#a0a0a0"/>
<path d="M1141,617 L1144,620.5 L1141,624 Z" fill="#a0a0a0"/>
</svg></body></html>
